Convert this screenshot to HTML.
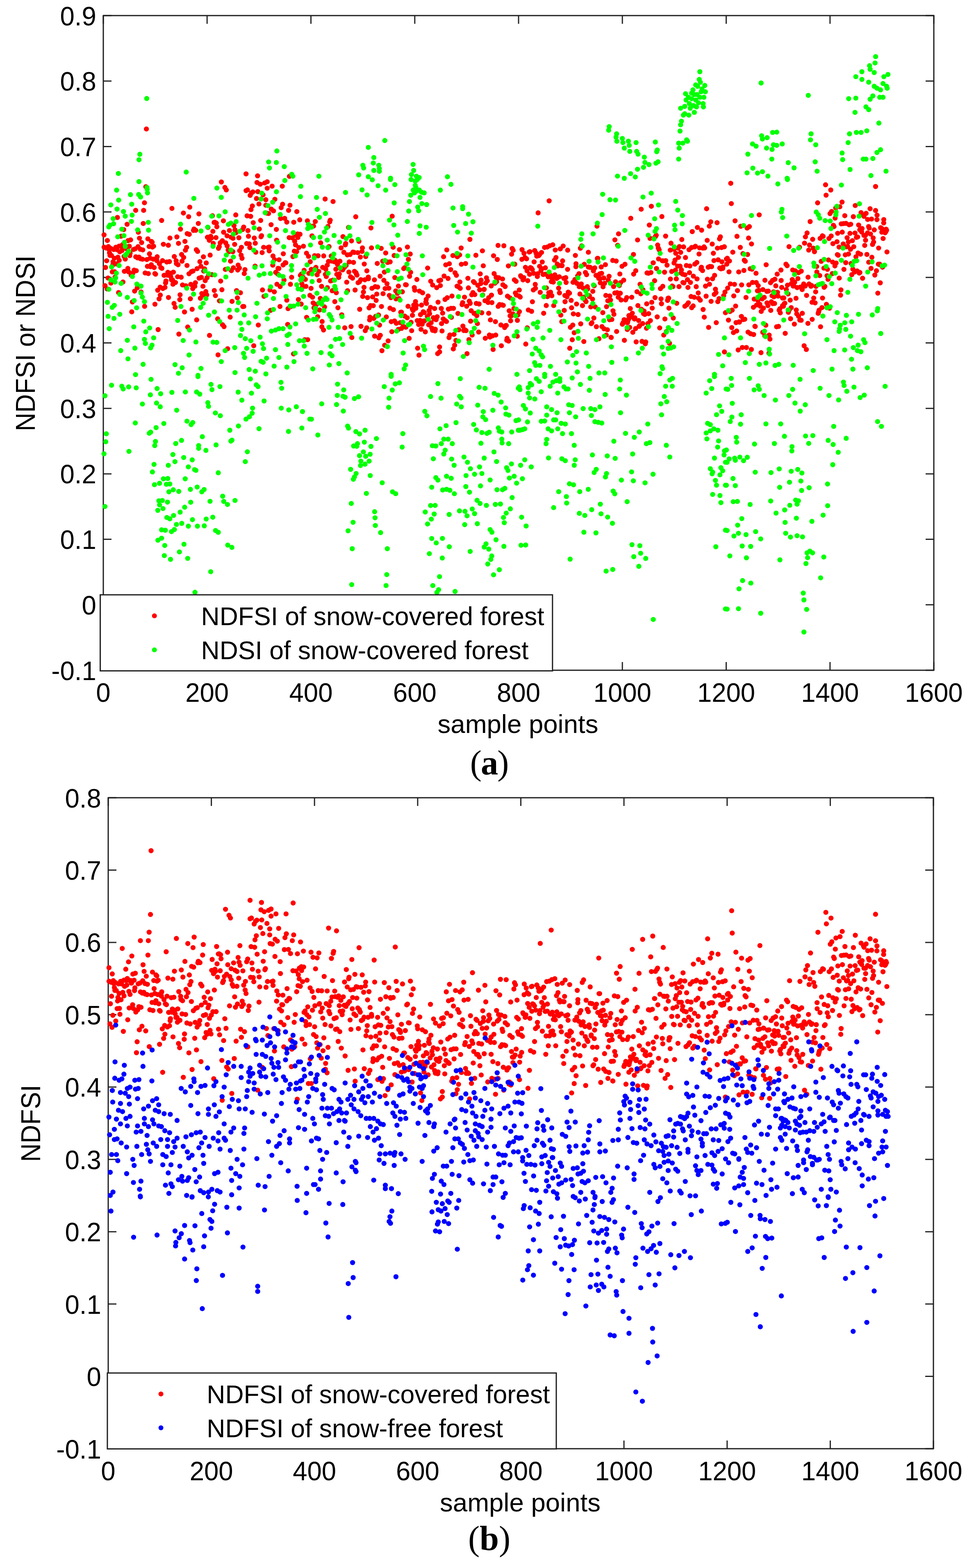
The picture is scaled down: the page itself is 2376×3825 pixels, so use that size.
<!DOCTYPE html>
<html><head><meta charset="utf-8"><title>NDFSI figure</title><style>html,body{margin:0;padding:0;background:#fff}svg{display:block}</style></head><body>
<svg xmlns="http://www.w3.org/2000/svg" width="2376" height="3825" viewBox="0 0 2376 3825">
<rect width="2376" height="3825" fill="#fff"/>
<path d="M252.0 38.0h20M2278.0 38.0h-20M252.0 197.7h20M2278.0 197.7h-20M252.0 357.4h20M2278.0 357.4h-20M252.0 517.1h20M2278.0 517.1h-20M252.0 676.8h20M2278.0 676.8h-20M252.0 836.5h20M2278.0 836.5h-20M252.0 996.2h20M2278.0 996.2h-20M252.0 1155.9h20M2278.0 1155.9h-20M252.0 1315.6h20M2278.0 1315.6h-20M252.0 1475.3h20M2278.0 1475.3h-20M252.0 1635.0h20M2278.0 1635.0h-20M252.0 38.0v20M252.0 1635.0v-20M505.2 38.0v20M505.2 1635.0v-20M758.5 38.0v20M758.5 1635.0v-20M1011.8 38.0v20M1011.8 1635.0v-20M1265.0 38.0v20M1265.0 1635.0v-20M1518.2 38.0v20M1518.2 1635.0v-20M1771.5 38.0v20M1771.5 1635.0v-20M2024.8 38.0v20M2024.8 1635.0v-20M2278.0 38.0v20M2278.0 1635.0v-20" fill="none" stroke="#262626" stroke-width="3"/>
<rect x="252" y="38" width="2026" height="1597" fill="none" stroke="#1e1e1e" stroke-width="3"/>
<path d="M264.0 1946.0h20M2277.0 1946.0h-20M264.0 2122.4h20M2277.0 2122.4h-20M264.0 2298.9h20M2277.0 2298.9h-20M264.0 2475.3h20M2277.0 2475.3h-20M264.0 2651.8h20M2277.0 2651.8h-20M264.0 2828.2h20M2277.0 2828.2h-20M264.0 3004.7h20M2277.0 3004.7h-20M264.0 3181.1h20M2277.0 3181.1h-20M264.0 3357.6h20M2277.0 3357.6h-20M264.0 3534.0h20M2277.0 3534.0h-20M264.0 1946.0v20M264.0 3534.0v-20M515.6 1946.0v20M515.6 3534.0v-20M767.2 1946.0v20M767.2 3534.0v-20M1018.9 1946.0v20M1018.9 3534.0v-20M1270.5 1946.0v20M1270.5 3534.0v-20M1522.1 1946.0v20M1522.1 3534.0v-20M1773.8 1946.0v20M1773.8 3534.0v-20M2025.4 1946.0v20M2025.4 3534.0v-20M2277.0 1946.0v20M2277.0 3534.0v-20" fill="none" stroke="#262626" stroke-width="3"/>
<rect x="264" y="1946" width="2013" height="1588" fill="none" stroke="#1e1e1e" stroke-width="3"/>
<g fill="none" stroke-width="12.4" stroke-linecap="round">
<path d="M357.1 314.6h0M355.8 455.4h0M352.4 494.6h0M331.0 513.2h0M350.4 513.2h0M419.4 508.4h0M462.9 505.4h0M539.9 444.0h0M548.6 457.3h0M552.0 463.3h0M600.2 424.2h0M628.3 429.0h0M627.0 445.2h0M635.0 449.4h0M645.7 446.4h0M651.8 443.4h0M651.8 459.1h0M663.8 454.2h0M688.6 454.2h0M706.0 430.2h0M600.2 465.1h0M603.6 463.3h0M613.6 470.5h0M610.3 476.5h0M616.9 468.1h0M629.0 467.5h0M641.7 475.3h0M625.7 484.3h0M648.4 487.3h0M670.5 486.1h0M631.7 497.6h0M648.4 500.6h0M615.6 502.4h0M689.3 498.2h0M685.9 506.6h0M707.4 500.6h0M793.1 485.5h0M812.5 491.6h0M612.3 511.4h0M661.8 510.2h0M667.2 514.4h0M704.0 513.2h0M724.1 516.2h0M1339.6 490.0h0M1782.6 447.2h0M1784.0 496.6h0M2013.9 450.8h0M2026.6 463.5h0M2015.2 476.1h0M1994.5 494.8h0M2054.1 493.0h0M2038.7 507.4h0M2048.7 504.4h0M2086.3 501.4h0M2135.9 455.0h0M2122.5 509.2h0M1564.1 510.4h0M1588.9 503.2h0M1723.7 509.2h0M2028.6 515.9h0M2135.9 513.5h0M555.3 850.6h0M531.9 865.7h0M619.0 843.4h0M716.1 863.3h0M938.4 842.2h0M931.7 855.5h0M1018.7 849.4h0M1022.1 866.3h0M1072.3 846.4h0M1072.3 858.5h0M1067.6 862.7h0M1109.1 842.2h0M1105.8 851.2h0M1223.0 843.4h0M1202.9 852.5h0M1139.3 862.7h0M1282.6 839.3h0M1389.8 849.5h0M1633.2 837.5h0M1574.2 838.7h0M1800.7 853.7h0M1810.8 847.7h0M1820.8 847.7h0M1832.9 852.5h0M1856.4 860.3h0M1875.8 861.6h0M1767.2 858.5h0M1961.6 843.5h0M1967.0 852.5h0M253.8 573.0h0M254.0 603.0h0M256.1 697.0h0M257.4 652.5h0M258.9 605.0h0M260.2 636.1h0M261.4 704.8h0M261.9 586.7h0M263.4 678.1h0M264.5 601.5h0M265.9 608.3h0M267.1 616.9h0M268.3 623.1h0M270.1 606.0h0M270.5 690.6h0M271.8 623.1h0M274.0 663.3h0M275.1 646.5h0M275.8 638.6h0M277.5 608.7h0M278.8 629.9h0M279.5 662.9h0M280.7 675.8h0M282.5 603.1h0M283.5 643.8h0M284.7 608.8h0M286.4 530.5h0M287.7 627.5h0M289.2 713.6h0M290.5 600.4h0M290.8 635.1h0M292.1 614.2h0M293.8 600.8h0M295.1 576.3h0M296.2 601.5h0M297.5 611.4h0M298.9 596.9h0M299.9 687.9h0M301.8 560.1h0M302.7 625.4h0M303.4 661.9h0M305.6 632.1h0M305.9 602.3h0M307.2 601.3h0M308.9 607.2h0M310.0 547.1h0M311.9 654.8h0M312.5 587.0h0M313.7 663.0h0M315.5 600.7h0M316.5 623.5h0M317.4 617.4h0M318.5 585.2h0M319.8 671.0h0M321.4 760.7h0M323.0 736.5h0M324.3 666.1h0M325.6 608.6h0M327.2 659.0h0M328.4 710.1h0M329.6 607.1h0M331.2 626.5h0M332.5 660.4h0M334.8 702.2h0M335.6 629.0h0M336.7 601.8h0M337.5 566.6h0M339.2 627.3h0M340.2 581.1h0M342.3 608.0h0M342.7 631.2h0M344.1 712.5h0M345.5 591.8h0M347.5 632.4h0M348.3 609.6h0M349.5 545.2h0M352.7 747.3h0M354.1 665.9h0M358.1 633.2h0M359.6 649.7h0M360.7 582.7h0M361.8 667.4h0M363.8 601.3h0M364.7 619.2h0M366.3 629.9h0M367.1 650.6h0M369.1 645.8h0M369.3 589.0h0M371.1 590.8h0M371.8 602.7h0M373.6 632.2h0M374.7 600.6h0M376.1 652.7h0M377.9 667.4h0M378.0 742.1h0M379.5 668.8h0M381.8 629.9h0M382.7 635.9h0M383.4 626.3h0M384.7 708.0h0M385.7 804.0h0M388.1 729.1h0M388.9 643.5h0M390.6 700.5h0M391.0 719.8h0M392.3 652.8h0M394.3 537.8h0M394.9 654.6h0M396.5 635.8h0M397.3 703.9h0M398.6 595.9h0M400.2 671.6h0M400.9 671.7h0M402.4 701.1h0M403.9 690.2h0M404.8 685.5h0M406.9 639.2h0M408.3 671.3h0M409.4 664.3h0M410.7 598.3h0M411.0 725.7h0M413.3 638.2h0M414.6 580.7h0M415.9 666.6h0M416.4 674.5h0M418.3 682.9h0M420.8 682.7h0M421.9 693.3h0M422.9 663.9h0M424.5 740.3h0M425.2 625.8h0M427.3 749.7h0M428.1 689.1h0M429.7 636.1h0M430.4 643.0h0M431.5 578.0h0M433.3 675.1h0M434.4 645.9h0M435.4 593.7h0M436.4 815.0h0M438.6 731.0h0M439.3 719.2h0M440.3 559.1h0M442.0 676.3h0M443.0 620.8h0M444.0 637.2h0M445.2 695.1h0M447.4 519.7h0M448.0 628.0h0M450.1 761.0h0M451.2 588.9h0M452.3 610.4h0M453.3 697.2h0M455.2 603.4h0M456.2 647.6h0M456.7 570.0h0M457.9 797.8h0M460.2 528.6h0M461.1 667.9h0M461.7 571.7h0M464.4 728.8h0M465.4 693.7h0M467.2 662.5h0M468.7 754.5h0M470.2 704.1h0M470.8 661.2h0M472.0 562.1h0M473.3 558.7h0M475.2 698.4h0M476.7 689.6h0M477.4 561.8h0M479.0 609.2h0M479.8 780.3h0M480.7 655.3h0M482.0 613.3h0M483.8 545.1h0M485.3 521.8h0M485.8 678.5h0M487.6 638.3h0M488.8 727.5h0M490.1 649.6h0M491.2 676.7h0M492.3 716.1h0M494.2 720.1h0M495.1 698.4h0M496.2 626.5h0M497.0 661.4h0M499.0 655.8h0M500.6 684.6h0M502.1 711.3h0M503.1 641.4h0M504.3 719.3h0M505.0 677.6h0M506.0 578.8h0M507.2 554.8h0M509.0 670.2h0M510.6 586.2h0M511.1 818.2h0M512.6 622.3h0M514.1 576.5h0M515.2 581.2h0M516.9 670.0h0M518.1 526.3h0M519.3 564.4h0M520.2 593.7h0M522.3 542.6h0M522.8 708.7h0M524.1 542.2h0M525.5 721.1h0M526.9 579.6h0M527.7 544.3h0M529.0 553.2h0M531.0 777.8h0M533.0 605.8h0M534.9 601.7h0M535.3 733.9h0M537.2 592.3h0M538.3 685.7h0M541.3 706.8h0M542.5 587.2h0M542.8 792.2h0M545.0 538.7h0M545.5 566.5h0M546.5 796.8h0M549.8 657.2h0M550.5 592.5h0M553.9 575.2h0M554.1 599.9h0M556.6 609.9h0M558.7 613.9h0M559.7 562.4h0M561.5 773.6h0M562.4 637.2h0M563.6 578.6h0M564.4 660.2h0M566.0 735.2h0M567.9 614.0h0M568.3 581.3h0M569.3 653.2h0M570.8 550.4h0M572.4 596.1h0M573.2 560.7h0M575.2 524.3h0M575.8 567.7h0M577.0 708.9h0M579.1 726.6h0M579.9 658.7h0M580.9 646.7h0M582.7 580.0h0M583.9 653.9h0M584.6 611.5h0M586.5 714.2h0M588.2 622.4h0M588.9 603.4h0M590.4 630.0h0M591.9 559.8h0M592.3 747.8h0M594.5 553.9h0M594.7 747.6h0M595.9 667.4h0M597.6 657.7h0M601.7 594.1h0M602.8 526.5h0M604.8 562.5h0M606.1 576.3h0M608.0 594.9h0M609.4 604.0h0M611.5 527.8h0M617.7 543.1h0M620.3 580.7h0M622.2 649.1h0M622.7 593.3h0M624.0 615.3h0M630.1 792.9h0M632.6 558.7h0M635.9 537.8h0M636.7 577.6h0M638.0 574.9h0M639.5 616.2h0M640.3 707.3h0M643.1 603.4h0M644.0 722.9h0M649.6 519.7h0M653.9 603.6h0M655.1 520.9h0M656.5 602.6h0M656.7 612.1h0M658.6 707.4h0M660.1 757.0h0M661.3 548.1h0M665.4 646.8h0M665.9 624.4h0M669.2 711.9h0M669.4 633.1h0M672.6 664.3h0M674.2 559.7h0M674.8 585.9h0M675.6 693.4h0M677.5 668.4h0M678.2 654.6h0M680.2 655.0h0M680.7 633.6h0M683.0 747.7h0M683.4 699.0h0M684.5 533.0h0M690.6 646.3h0M691.1 619.1h0M692.8 683.2h0M694.4 532.7h0M695.4 641.7h0M696.0 640.7h0M697.3 641.3h0M699.6 541.8h0M699.6 732.4h0M701.7 791.4h0M702.7 752.9h0M705.5 579.7h0M708.5 693.5h0M709.9 747.5h0M711.4 676.4h0M713.3 580.3h0M714.6 626.0h0M716.6 542.2h0M718.0 612.6h0M718.8 588.3h0M720.9 597.3h0M721.3 573.9h0M723.6 614.0h0M726.1 570.7h0M726.7 579.3h0M727.9 730.6h0M729.0 603.8h0M731.2 536.3h0M731.8 571.5h0M732.8 671.7h0M734.7 741.8h0M735.3 668.6h0M736.5 691.8h0M737.8 700.7h0M739.4 676.6h0M740.2 600.6h0M741.9 659.4h0M743.5 828.7h0M744.9 681.6h0M746.3 698.6h0M747.7 617.6h0M748.0 774.1h0M749.9 538.7h0M750.5 828.6h0M752.6 625.4h0M753.4 666.9h0M754.7 549.9h0M756.1 720.5h0M756.8 638.5h0M758.8 703.4h0M759.4 657.1h0M761.0 575.4h0M762.4 725.1h0M764.0 738.9h0M764.9 551.3h0M765.9 750.7h0M767.5 623.6h0M769.1 540.4h0M769.9 653.4h0M770.7 652.3h0M772.1 742.7h0M773.7 670.4h0M775.0 772.7h0M775.9 624.0h0M777.6 662.2h0M778.7 684.4h0M779.4 756.2h0M781.4 727.9h0M782.2 592.4h0M784.4 698.5h0M785.2 797.3h0M785.8 784.3h0M787.2 652.3h0M789.2 805.0h0M789.6 624.3h0M791.7 748.8h0M793.7 669.3h0M794.7 656.9h0M796.0 674.5h0M798.3 646.9h0M798.7 701.6h0M800.0 552.5h0M801.3 637.8h0M802.6 601.5h0M804.3 541.2h0M805.5 537.1h0M806.5 685.3h0M808.0 624.5h0M809.2 636.8h0M810.3 709.3h0M811.9 683.5h0M813.7 708.3h0M815.1 638.3h0M816.7 735.8h0M817.7 635.3h0M819.3 656.8h0M820.4 714.1h0M821.7 669.2h0M823.2 645.1h0M824.3 750.7h0M825.9 673.9h0M826.3 676.8h0M827.7 668.3h0M829.2 637.2h0M831.3 655.9h0M832.1 604.6h0M833.6 767.9h0M834.9 657.9h0M835.8 658.4h0M836.6 577.1h0M838.8 615.5h0M840.0 652.6h0M841.0 799.6h0M842.4 597.3h0M843.3 594.1h0M844.3 647.7h0M845.8 688.4h0M847.3 621.8h0M847.8 709.2h0M850.2 554.8h0M851.1 663.6h0M852.0 638.9h0M854.1 620.9h0M855.2 675.2h0M856.4 796.6h0M857.5 587.7h0M858.3 823.4h0M860.0 678.6h0M861.0 614.9h0M862.3 640.2h0M863.9 615.8h0M864.8 661.9h0M866.2 707.5h0M867.8 528.8h0M868.5 665.3h0M869.3 668.5h0M870.8 671.1h0M872.7 616.4h0M873.5 689.6h0M875.6 588.8h0M876.8 687.7h0M877.4 754.5h0M879.1 627.1h0M880.1 682.2h0M880.7 796.0h0M883.2 613.3h0M884.1 604.7h0M884.8 723.2h0M886.6 712.4h0M888.0 700.9h0M888.6 644.1h0M889.9 682.5h0M891.0 806.6h0M892.2 625.8h0M894.5 799.6h0M894.9 660.7h0M896.6 726.0h0M898.4 676.0h0M898.7 680.1h0M900.4 751.0h0M901.6 780.3h0M902.5 773.8h0M904.1 745.5h0M904.9 556.1h0M906.2 604.6h0M907.3 703.4h0M909.1 724.3h0M910.6 745.7h0M911.8 776.7h0M913.4 682.6h0M913.9 820.0h0M915.4 699.2h0M916.4 771.7h0M917.6 732.9h0M919.1 717.4h0M920.3 642.7h0M921.2 700.3h0M923.3 768.5h0M924.2 824.0h0M925.8 793.0h0M927.3 673.7h0M927.7 817.9h0M929.9 605.9h0M930.6 747.7h0M933.6 637.1h0M934.4 716.4h0M936.4 683.8h0M937.6 663.8h0M939.6 703.9h0M940.9 617.2h0M942.4 773.2h0M944.0 692.1h0M944.8 639.0h0M945.6 640.4h0M946.8 831.6h0M948.5 703.1h0M949.8 720.6h0M951.4 751.8h0M951.7 638.8h0M953.5 726.1h0M954.5 784.7h0M955.8 809.1h0M956.7 527.4h0M959.0 603.2h0M959.6 755.4h0M961.5 623.3h0M962.4 783.0h0M963.1 677.1h0M965.3 709.6h0M966.0 729.1h0M966.8 788.6h0M968.1 711.6h0M969.5 715.8h0M971.8 803.5h0M971.9 697.9h0M973.2 728.4h0M974.5 608.9h0M976.1 787.1h0M977.6 761.6h0M979.3 761.4h0M979.6 801.1h0M981.5 711.8h0M983.1 797.6h0M983.7 796.2h0M984.9 655.2h0M986.7 653.3h0M987.4 771.2h0M989.3 694.5h0M990.0 798.2h0M991.0 694.9h0M993.3 775.2h0M993.9 602.6h0M995.4 747.2h0M996.2 632.7h0M998.1 825.4h0M999.1 674.0h0M1000.7 619.7h0M1001.7 664.3h0M1002.7 786.3h0M1004.2 806.6h0M1005.8 754.0h0M1006.1 769.2h0M1007.8 757.3h0M1009.3 744.3h0M1010.7 701.5h0M1011.8 707.8h0M1013.6 735.6h0M1014.4 752.1h0M1015.7 744.8h0M1016.9 681.8h0M1017.9 782.1h0M1021.2 791.5h0M1023.2 710.1h0M1024.9 781.6h0M1025.8 767.5h0M1027.1 803.4h0M1028.2 744.3h0M1029.9 790.9h0M1030.9 714.3h0M1032.5 760.4h0M1033.6 783.1h0M1034.9 762.5h0M1035.4 782.8h0M1037.5 809.5h0M1038.7 737.2h0M1039.7 730.5h0M1040.3 740.3h0M1042.5 772.1h0M1043.2 653.9h0M1044.3 722.2h0M1045.7 792.3h0M1046.8 757.4h0M1047.9 765.2h0M1050.2 749.7h0M1050.7 686.1h0M1051.7 787.4h0M1053.3 800.1h0M1055.3 805.9h0M1055.5 695.3h0M1057.1 774.9h0M1059.0 778.0h0M1060.2 752.6h0M1061.0 807.2h0M1061.8 803.2h0M1063.9 779.9h0M1065.3 701.7h0M1066.4 772.6h0M1068.6 737.1h0M1070.6 684.9h0M1074.2 696.6h0M1074.9 683.5h0M1076.5 752.5h0M1077.2 789.4h0M1078.3 807.4h0M1079.8 763.8h0M1081.3 777.9h0M1082.1 626.3h0M1083.3 673.5h0M1085.6 730.5h0M1086.5 782.2h0M1087.4 646.1h0M1089.0 784.4h0M1089.9 609.6h0M1091.0 726.3h0M1093.0 679.3h0M1093.8 754.0h0M1095.4 823.5h0M1096.1 643.4h0M1097.5 817.2h0M1099.5 657.7h0M1100.2 752.2h0M1101.1 774.2h0M1102.6 722.2h0M1104.8 623.4h0M1106.2 752.2h0M1107.6 815.7h0M1110.0 665.5h0M1112.1 830.4h0M1113.4 671.6h0M1114.9 698.1h0M1115.6 626.4h0M1117.1 764.7h0M1118.5 699.7h0M1119.2 804.5h0M1121.2 621.9h0M1121.8 687.9h0M1122.7 703.3h0M1124.9 605.0h0M1125.5 644.6h0M1127.2 743.0h0M1128.6 738.2h0M1129.2 795.4h0M1131.4 806.4h0M1132.5 803.7h0M1133.1 724.9h0M1135.2 805.3h0M1135.7 642.9h0M1136.9 806.5h0M1138.4 747.0h0M1141.4 678.9h0M1142.6 702.3h0M1143.9 828.4h0M1144.8 734.6h0M1146.3 584.0h0M1147.0 740.0h0M1148.1 783.5h0M1149.4 758.0h0M1150.7 719.1h0M1151.8 817.3h0M1153.6 713.7h0M1155.0 686.9h0M1156.5 764.5h0M1157.3 689.3h0M1158.2 718.6h0M1159.5 764.5h0M1160.9 622.7h0M1162.0 740.2h0M1163.1 770.0h0M1164.6 789.4h0M1165.7 696.2h0M1167.7 810.0h0M1168.7 741.5h0M1170.2 707.0h0M1171.5 668.1h0M1172.8 691.7h0M1173.5 683.3h0M1175.2 763.0h0M1176.8 611.9h0M1177.4 719.6h0M1178.9 648.4h0M1180.7 706.3h0M1181.2 705.8h0M1183.1 733.6h0M1183.8 825.2h0M1184.9 690.3h0M1186.7 677.6h0M1188.4 733.2h0M1188.7 685.2h0M1190.7 737.8h0M1192.1 764.2h0M1192.2 726.1h0M1193.8 817.3h0M1195.3 822.2h0M1196.3 780.4h0M1198.2 697.5h0M1198.9 720.0h0M1200.0 738.2h0M1201.2 819.3h0M1204.0 623.9h0M1205.4 667.5h0M1207.3 690.9h0M1208.6 784.7h0M1209.3 817.4h0M1210.2 676.3h0M1211.3 687.2h0M1213.1 633.0h0M1215.0 598.7h0M1215.3 747.3h0M1216.7 677.5h0M1218.7 742.9h0M1219.2 708.6h0M1220.6 713.6h0M1222.0 792.8h0M1224.6 743.8h0M1225.9 680.6h0M1226.7 694.6h0M1227.7 744.9h0M1229.1 599.5h0M1231.0 799.0h0M1232.2 699.0h0M1233.7 794.2h0M1235.0 794.0h0M1236.2 830.1h0M1237.0 825.3h0M1238.0 722.5h0M1240.1 648.7h0M1240.6 832.1h0M1242.1 758.1h0M1244.0 726.7h0M1244.3 770.4h0M1245.6 782.5h0M1247.3 770.4h0M1248.0 620.1h0M1249.5 606.2h0M1251.0 765.7h0M1251.8 610.7h0M1253.6 752.6h0M1254.8 682.7h0M1255.7 644.5h0M1257.3 714.7h0M1259.0 686.3h0M1259.5 719.7h0M1261.8 820.2h0M1262.1 781.5h0M1263.4 768.2h0M1265.5 721.6h0M1266.7 707.5h0M1267.0 760.1h0M1269.0 724.6h0M1270.0 672.6h0M1271.2 674.8h0M1273.1 632.6h0M1273.5 609.0h0M1275.8 682.8h0M1276.2 682.5h0M1277.5 677.1h0M1278.3 618.0h0M1280.8 628.4h0M1281.8 652.1h0M1284.5 631.3h0M1285.7 660.6h0M1286.2 799.6h0M1287.3 684.7h0M1288.9 756.2h0M1290.9 614.9h0M1292.0 669.2h0M1292.5 614.0h0M1294.0 652.8h0M1295.9 653.9h0M1296.7 759.5h0M1298.5 657.4h0M1298.8 736.1h0M1301.0 707.4h0M1301.6 666.7h0M1302.9 638.9h0M1304.4 611.2h0M1305.7 693.7h0M1306.2 703.3h0M1307.7 617.5h0M1309.4 624.9h0M1310.8 674.5h0M1311.8 667.7h0M1312.7 519.3h0M1314.1 623.6h0M1316.3 620.9h0M1316.3 649.6h0M1317.8 713.2h0M1319.7 660.1h0M1321.0 615.9h0M1321.7 655.5h0M1322.7 639.1h0M1324.9 669.6h0M1326.2 764.2h0M1327.0 723.7h0M1328.4 603.7h0M1330.1 668.9h0M1330.3 653.3h0M1332.6 745.3h0M1332.9 702.4h0M1335.0 602.6h0M1335.5 723.6h0M1337.4 675.3h0M1338.8 714.1h0M1341.1 599.4h0M1342.3 671.2h0M1343.0 712.7h0M1345.0 687.1h0M1346.2 721.3h0M1347.0 680.0h0M1348.4 597.2h0M1349.6 688.2h0M1350.7 745.4h0M1352.6 634.6h0M1353.5 670.4h0M1354.5 609.9h0M1356.3 628.1h0M1357.3 676.6h0M1358.2 679.2h0M1359.4 644.3h0M1361.0 648.6h0M1362.7 703.0h0M1364.3 675.1h0M1364.7 714.5h0M1366.8 607.2h0M1368.1 768.6h0M1368.3 647.7h0M1370.4 784.6h0M1371.1 648.0h0M1372.4 636.3h0M1373.8 600.1h0M1375.4 679.0h0M1376.5 757.2h0M1378.0 720.9h0M1378.4 736.0h0M1380.2 677.3h0M1381.0 689.0h0M1383.2 724.1h0M1384.6 657.1h0M1384.8 610.3h0M1386.1 712.6h0M1387.2 716.3h0M1389.2 715.2h0M1391.5 798.5h0M1393.3 732.8h0M1394.3 750.8h0M1396.0 828.8h0M1397.3 793.0h0M1397.9 688.7h0M1398.7 765.7h0M1400.7 811.6h0M1402.4 682.0h0M1403.6 623.1h0M1404.8 650.5h0M1405.1 643.4h0M1406.5 741.6h0M1407.5 691.3h0M1409.3 672.9h0M1410.3 767.3h0M1412.4 667.6h0M1413.0 699.4h0M1414.7 717.3h0M1415.8 605.5h0M1416.6 790.0h0M1418.0 692.6h0M1419.1 599.8h0M1420.9 745.5h0M1422.4 702.7h0M1423.3 725.0h0M1424.2 833.1h0M1425.3 644.8h0M1427.2 732.0h0M1428.1 664.7h0M1429.6 735.9h0M1430.9 670.0h0M1432.7 699.3h0M1433.6 704.9h0M1435.3 651.5h0M1435.3 615.4h0M1437.7 723.6h0M1437.9 721.5h0M1439.7 652.3h0M1441.1 748.6h0M1442.2 789.5h0M1443.9 787.3h0M1445.4 729.6h0M1446.1 710.7h0M1447.6 660.9h0M1448.7 775.8h0M1449.4 697.2h0M1450.8 653.5h0M1451.9 748.7h0M1453.9 671.8h0M1454.9 797.0h0M1456.3 551.7h0M1457.2 630.3h0M1458.4 630.2h0M1460.5 679.1h0M1461.1 826.3h0M1462.9 668.1h0M1464.2 679.7h0M1464.5 690.1h0M1466.6 651.3h0M1467.5 666.8h0M1468.4 796.7h0M1470.5 762.7h0M1471.1 699.6h0M1472.9 678.2h0M1473.4 802.0h0M1474.7 691.3h0M1476.9 645.6h0M1477.9 720.7h0M1478.9 817.4h0M1479.6 748.1h0M1481.6 804.4h0M1482.6 733.7h0M1483.8 683.3h0M1485.8 673.9h0M1487.0 780.0h0M1487.5 722.0h0M1489.3 732.0h0M1490.6 823.0h0M1491.1 823.3h0M1492.5 779.3h0M1494.7 635.3h0M1495.4 758.1h0M1496.8 699.0h0M1497.6 766.7h0M1499.8 714.8h0M1500.0 585.1h0M1501.6 687.4h0M1503.1 636.8h0M1504.2 808.6h0M1505.4 713.9h0M1506.7 598.5h0M1508.2 725.0h0M1508.9 570.4h0M1510.7 696.5h0M1512.1 668.4h0M1513.2 715.3h0M1514.0 689.4h0M1515.1 731.8h0M1517.4 649.6h0M1518.3 790.9h0M1519.9 787.1h0M1521.4 683.5h0M1522.5 780.0h0M1523.1 830.2h0M1524.6 644.7h0M1526.2 731.6h0M1527.6 785.9h0M1528.9 726.0h0M1530.3 803.8h0M1530.8 787.1h0M1531.7 783.1h0M1533.6 778.2h0M1534.2 769.8h0M1536.1 798.6h0M1537.6 752.7h0M1538.7 532.5h0M1540.3 772.7h0M1541.1 725.1h0M1542.5 764.1h0M1543.7 810.6h0M1545.3 620.6h0M1545.7 668.7h0M1547.6 778.2h0M1548.6 775.1h0M1550.5 801.5h0M1550.9 660.4h0M1551.9 834.0h0M1553.9 711.6h0M1555.3 585.4h0M1556.1 745.4h0M1557.9 781.9h0M1559.2 796.0h0M1560.2 794.4h0M1561.4 693.4h0M1563.1 716.7h0M1564.5 754.5h0M1566.1 832.8h0M1567.8 789.3h0M1568.3 706.9h0M1569.8 765.1h0M1571.2 758.8h0M1573.0 767.1h0M1575.2 834.2h0M1577.1 800.7h0M1577.6 741.2h0M1578.4 665.8h0M1580.4 789.3h0M1582.0 666.5h0M1582.3 765.2h0M1584.0 549.0h0M1585.7 581.5h0M1586.6 782.1h0M1587.9 664.9h0M1589.9 737.4h0M1591.1 751.6h0M1593.2 641.1h0M1593.6 641.1h0M1595.5 581.1h0M1596.9 684.8h0M1597.9 726.0h0M1599.1 576.8h0M1600.8 573.9h0M1601.5 655.0h0M1603.2 773.0h0M1604.3 597.8h0M1605.9 605.2h0M1606.5 631.6h0M1607.9 609.3h0M1609.3 799.9h0M1611.1 704.1h0M1612.5 729.1h0M1613.6 741.0h0M1614.6 528.3h0M1615.7 636.1h0M1616.8 698.5h0M1618.4 636.4h0M1619.2 817.4h0M1621.1 664.0h0M1622.0 778.1h0M1623.7 576.0h0M1624.0 636.0h0M1625.5 808.9h0M1627.2 646.8h0M1628.5 732.9h0M1629.7 727.5h0M1631.1 727.3h0M1631.8 751.7h0M1635.1 610.1h0M1635.5 680.6h0M1636.9 593.3h0M1638.5 662.3h0M1639.8 697.8h0M1641.5 699.0h0M1642.4 775.8h0M1643.9 608.2h0M1644.3 641.5h0M1646.7 634.5h0M1647.6 659.2h0M1648.5 617.9h0M1649.8 680.3h0M1650.8 739.9h0M1653.1 649.2h0M1654.2 605.3h0M1655.0 627.9h0M1656.4 699.2h0M1657.4 601.5h0M1659.1 649.3h0M1660.4 615.7h0M1661.5 666.0h0M1662.3 658.3h0M1663.2 584.3h0M1665.4 668.8h0M1665.9 689.1h0M1667.6 602.3h0M1668.4 690.0h0M1670.6 747.1h0M1670.9 670.4h0M1672.2 628.3h0M1674.4 647.6h0M1675.7 743.3h0M1677.1 682.1h0M1678.2 701.2h0M1679.2 738.6h0M1680.8 609.1h0M1682.0 665.2h0M1682.9 648.9h0M1684.3 689.1h0M1685.8 723.3h0M1687.1 603.8h0M1687.3 750.5h0M1688.7 565.0h0M1690.9 746.3h0M1691.4 673.6h0M1693.5 725.1h0M1694.6 602.3h0M1695.0 644.3h0M1696.4 600.6h0M1698.4 699.3h0M1699.8 640.3h0M1700.4 680.4h0M1701.3 554.9h0M1703.3 714.7h0M1704.2 727.7h0M1705.3 619.6h0M1706.5 604.6h0M1708.3 732.4h0M1709.9 656.2h0M1711.0 652.0h0M1711.5 561.5h0M1713.8 660.1h0M1714.6 605.4h0M1715.2 755.0h0M1717.4 602.3h0M1718.0 773.7h0M1719.0 604.8h0M1721.1 698.0h0M1722.5 722.5h0M1725.2 586.4h0M1725.7 681.2h0M1727.6 651.8h0M1728.6 798.6h0M1730.3 551.6h0M1730.7 693.4h0M1731.7 650.0h0M1733.9 541.1h0M1734.7 735.1h0M1735.8 650.5h0M1737.4 595.4h0M1738.2 680.0h0M1740.2 617.8h0M1741.6 635.6h0M1742.5 718.2h0M1743.2 671.7h0M1745.3 705.5h0M1746.7 714.1h0M1747.3 787.1h0M1749.2 543.2h0M1750.2 605.4h0M1751.0 735.9h0M1751.9 633.8h0M1754.1 728.5h0M1755.2 582.7h0M1755.8 653.8h0M1757.3 577.6h0M1758.6 655.8h0M1760.2 603.9h0M1761.1 638.6h0M1763.0 654.9h0M1763.5 651.5h0M1765.4 721.1h0M1766.9 602.0h0M1768.5 712.5h0M1769.7 762.8h0M1772.1 631.8h0M1772.9 644.3h0M1774.1 629.9h0M1775.1 702.8h0M1777.0 780.9h0M1778.4 663.1h0M1779.5 636.6h0M1780.8 759.8h0M1781.5 692.6h0M1785.1 799.2h0M1786.1 756.5h0M1787.6 615.2h0M1789.2 811.3h0M1790.0 721.9h0M1791.7 693.6h0M1793.1 538.7h0M1794.5 746.6h0M1795.6 787.0h0M1797.1 807.4h0M1797.8 576.5h0M1799.0 708.9h0M1802.1 663.4h0M1803.0 785.1h0M1803.8 785.9h0M1805.9 603.5h0M1807.0 552.0h0M1808.6 771.9h0M1809.1 695.0h0M1812.4 618.6h0M1812.9 779.6h0M1814.7 659.8h0M1815.6 634.7h0M1816.8 778.7h0M1818.0 637.4h0M1819.8 725.6h0M1822.6 556.3h0M1823.7 620.8h0M1824.8 810.1h0M1826.1 580.7h0M1826.8 694.9h0M1828.0 552.8h0M1830.0 655.6h0M1831.2 814.3h0M1833.2 595.1h0M1834.4 656.7h0M1835.8 689.0h0M1837.9 749.7h0M1838.4 816.0h0M1839.8 729.6h0M1841.6 796.0h0M1842.3 796.5h0M1844.3 666.6h0M1844.9 689.3h0M1845.7 744.1h0M1847.7 709.4h0M1848.7 732.8h0M1849.6 696.9h0M1851.3 708.5h0M1852.0 524.1h0M1853.5 742.2h0M1854.8 747.1h0M1857.0 759.7h0M1859.3 729.1h0M1860.7 810.6h0M1861.0 706.4h0M1862.2 751.8h0M1864.3 725.5h0M1865.7 819.3h0M1866.0 683.7h0M1868.1 793.3h0M1869.0 645.9h0M1870.7 710.8h0M1871.0 738.9h0M1873.3 745.6h0M1874.3 710.2h0M1876.3 817.5h0M1878.2 827.2h0M1879.7 689.7h0M1880.2 757.2h0M1881.9 736.2h0M1883.3 721.4h0M1884.5 684.2h0M1885.0 740.5h0M1887.1 711.9h0M1887.9 724.1h0M1889.5 740.3h0M1890.3 681.2h0M1891.4 713.7h0M1892.5 697.3h0M1894.5 797.2h0M1895.9 668.7h0M1896.7 713.2h0M1898.2 722.4h0M1899.1 796.3h0M1900.7 756.7h0M1902.4 753.3h0M1903.4 763.2h0M1905.1 658.8h0M1905.6 684.2h0M1906.9 701.2h0M1908.9 745.6h0M1909.0 727.0h0M1911.0 747.2h0M1912.0 726.8h0M1913.4 740.4h0M1914.6 739.6h0M1915.5 813.2h0M1917.3 644.4h0M1918.1 706.2h0M1920.1 648.2h0M1921.0 695.6h0M1922.5 717.1h0M1923.2 761.9h0M1924.8 601.7h0M1925.4 755.9h0M1927.6 732.2h0M1928.5 777.5h0M1930.1 750.5h0M1930.5 691.8h0M1932.8 682.0h0M1933.8 658.6h0M1934.8 697.8h0M1936.6 697.6h0M1937.8 790.6h0M1938.5 688.5h0M1940.0 660.7h0M1941.8 727.6h0M1942.4 756.1h0M1943.6 765.6h0M1944.7 701.5h0M1946.4 679.6h0M1948.0 771.6h0M1948.2 665.1h0M1950.3 603.2h0M1951.1 780.8h0M1952.3 700.4h0M1954.4 781.3h0M1954.6 661.5h0M1956.9 706.3h0M1957.2 764.3h0M1958.7 697.3h0M1960.6 692.7h0M1962.6 593.2h0M1964.2 697.9h0M1964.8 577.8h0M1967.6 720.7h0M1968.8 568.3h0M1970.9 788.9h0M1971.2 676.2h0M1972.8 610.1h0M1973.6 692.8h0M1974.7 597.8h0M1976.3 540.5h0M1978.3 698.3h0M1979.7 696.5h0M1980.9 737.4h0M1981.3 779.1h0M1982.4 583.8h0M1984.0 605.5h0M1985.0 727.1h0M1986.8 614.0h0M1988.4 738.9h0M1989.7 711.9h0M1990.5 698.7h0M1992.3 650.1h0M1992.6 663.5h0M1995.9 764.4h0M1997.0 760.7h0M1998.1 756.7h0M1999.6 672.2h0M2000.6 581.6h0M2001.7 797.1h0M2003.3 637.5h0M2005.0 750.4h0M2006.1 575.3h0M2006.5 727.1h0M2007.9 576.5h0M2009.8 654.1h0M2010.4 700.8h0M2012.2 698.7h0M2016.0 742.5h0M2017.4 672.6h0M2018.5 657.1h0M2019.9 681.3h0M2021.0 634.2h0M2022.2 581.9h0M2023.5 751.8h0M2024.8 521.1h0M2027.6 575.6h0M2030.3 667.5h0M2031.2 639.4h0M2031.8 594.4h0M2033.0 549.6h0M2034.6 552.7h0M2036.7 648.7h0M2037.2 532.1h0M2039.7 641.6h0M2041.8 589.6h0M2042.7 621.1h0M2043.4 569.1h0M2044.7 622.5h0M2046.8 602.7h0M2047.2 678.4h0M2050.5 720.1h0M2051.4 707.2h0M2052.2 546.1h0M2054.6 566.3h0M2057.0 595.1h0M2057.8 545.4h0M2058.7 657.1h0M2060.8 526.2h0M2062.0 621.7h0M2063.2 640.8h0M2063.7 544.9h0M2064.7 602.1h0M2066.5 580.0h0M2067.6 601.0h0M2069.4 590.3h0M2069.9 619.7h0M2071.5 548.3h0M2073.4 569.3h0M2074.7 608.2h0M2075.3 547.1h0M2076.2 642.6h0M2077.9 670.0h0M2079.3 587.1h0M2080.5 656.5h0M2081.7 528.5h0M2082.7 601.9h0M2084.5 663.6h0M2085.7 568.4h0M2088.0 626.4h0M2089.1 579.1h0M2090.9 660.9h0M2092.1 578.2h0M2093.2 617.2h0M2094.6 549.0h0M2096.0 666.2h0M2097.3 560.7h0M2097.6 664.8h0M2099.2 620.1h0M2100.5 518.7h0M2101.8 565.8h0M2102.9 557.5h0M2104.2 678.8h0M2106.4 525.5h0M2107.5 574.2h0M2107.7 527.8h0M2109.4 598.7h0M2111.2 574.1h0M2111.5 586.0h0M2112.8 520.5h0M2114.7 620.7h0M2116.3 568.2h0M2116.6 535.4h0M2118.9 552.7h0M2119.2 639.6h0M2120.4 556.3h0M2123.5 570.9h0M2124.9 654.7h0M2126.0 534.4h0M2126.9 627.7h0M2128.5 596.4h0M2130.0 580.4h0M2131.1 590.5h0M2132.7 560.8h0M2134.1 671.0h0M2138.0 660.5h0M2139.2 535.8h0M2139.5 524.9h0M2141.4 715.1h0M2142.7 644.4h0M2143.4 605.1h0M2145.5 645.6h0M2145.8 644.5h0M2147.3 690.0h0M2148.3 555.5h0M2150.5 557.0h0M2151.2 566.3h0M2152.8 651.7h0M2154.3 581.9h0M2155.7 543.8h0M2155.9 535.6h0M2157.8 560.7h0M2159.1 567.8h0M2160.8 565.5h0M2161.7 559.2h0M2162.7 561.8h0M2163.7 614.6h0" stroke="#ff0000"/>
<path d="M482.9 918.7h0M368.5 925.4h0M610.8 924.4h0M272.1 939.8h0M297.2 942.1h0M300.5 948.8h0M313.9 943.8h0M332.3 946.1h0M514.7 937.7h0M536.5 943.1h0M625.2 938.8h0M629.5 943.1h0M685.4 932.7h0M687.1 947.1h0M383.2 947.8h0M391.9 960.5h0M366.8 963.2h0M419.3 957.2h0M452.1 956.2h0M479.6 956.2h0M487.3 961.5h0M517.1 950.5h0M581.0 956.5h0M613.4 959.2h0M256.0 965.5h0M590.0 976.2h0M644.2 978.2h0M347.4 985.6h0M381.9 983.3h0M390.9 992.3h0M507.0 982.3h0M508.7 991.3h0M431.0 1000.7h0M616.1 995.6h0M686.1 995.6h0M704.5 1000.0h0M722.9 992.3h0M737.9 1004.0h0M755.7 1022.4h0M525.4 1007.4h0M537.5 1014.1h0M615.1 1008.0h0M608.4 1016.7h0M600.1 1022.4h0M330.0 1031.8h0M399.6 1033.1h0M456.1 1027.4h0M470.2 1030.8h0M466.2 1035.8h0M380.8 1043.2h0M581.7 1039.2h0M560.6 1049.5h0M631.9 1045.8h0M703.8 1052.5h0M736.3 1044.2h0M367.5 1054.2h0M364.1 1056.9h0M259.4 1058.2h0M258.0 1077.6h0M379.2 1077.0h0M377.5 1087.0h0M428.7 1082.0h0M442.8 1074.3h0M493.6 1065.3h0M484.6 1087.0h0M484.6 1093.7h0M502.3 1098.7h0M527.1 1085.3h0M565.9 1073.6h0M563.2 1076.0h0M603.4 1102.1h0M314.6 1101.1h0M253.7 1107.1h0M421.7 1108.8h0M448.1 1116.1h0M468.9 1121.8h0M426.7 1126.2h0M410.6 1135.2h0M375.8 1132.9h0M459.5 1138.9h0M474.6 1145.6h0M477.9 1147.3h0M598.4 1126.2h0M371.8 1151.3h0M532.5 1153.3h0M398.6 1168.0h0M409.3 1167.3h0M451.8 1168.0h0M376.8 1182.4h0M389.2 1179.0h0M405.9 1181.4h0M414.3 1180.7h0M412.0 1199.8h0M422.7 1194.8h0M436.1 1198.8h0M464.5 1193.8h0M480.9 1188.1h0M492.3 1199.8h0M498.0 1194.1h0M543.2 1210.5h0M545.8 1223.2h0M554.9 1230.6h0M573.3 1220.9h0M512.4 1222.9h0M465.2 1225.2h0M256.0 1235.6h0M387.5 1221.6h0M395.9 1220.9h0M408.6 1224.9h0M389.2 1231.6h0M397.6 1240.6h0M384.9 1245.0h0M450.5 1237.3h0M439.4 1249.3h0M407.0 1262.4h0M414.3 1265.7h0M423.4 1257.4h0M469.5 1267.7h0M503.0 1266.1h0M519.1 1261.7h0M430.4 1279.4h0M443.4 1276.8h0M459.5 1283.5h0M481.6 1283.5h0M498.3 1282.8h0M394.2 1292.5h0M403.3 1293.5h0M418.3 1296.9h0M425.4 1291.8h0M525.8 1294.2h0M532.5 1298.5h0M385.2 1317.9h0M394.2 1312.9h0M401.9 1330.7h0M448.8 1327.6h0M555.5 1329.7h0M565.6 1335.3h0M437.7 1346.4h0M400.9 1355.4h0M416.0 1364.5h0M457.8 1362.1h0M514.0 1394.6h0M475.6 1444.8h0M954.2 918.0h0M1122.9 923.7h0M823.4 937.1h0M838.5 951.2h0M822.7 964.6h0M836.8 966.6h0M841.8 969.0h0M864.6 972.3h0M874.7 968.0h0M937.4 943.2h0M964.2 936.5h0M974.3 933.8h0M956.9 951.5h0M949.1 971.3h0M948.1 993.5h0M784.8 985.1h0M821.0 986.8h0M837.5 1002.8h0M1068.2 935.8h0M1050.4 967.3h0M1075.9 971.3h0M1121.2 966.6h0M1124.5 970.7h0M1114.1 985.7h0M1125.2 992.5h0M1168.8 944.8h0M1183.2 947.2h0M1205.7 959.6h0M1215.1 963.9h0M1222.5 980.7h0M1165.4 988.4h0M1178.9 1004.2h0M1202.3 1000.8h0M1233.5 995.1h0M1234.2 1010.2h0M1241.6 1012.6h0M1258.7 1026.0h0M1264.4 947.2h0M759.7 1022.6h0M1036.3 1003.5h0M1041.4 1014.3h0M1177.9 1016.9h0M1184.6 1023.6h0M1112.5 1031.0h0M1088.3 1038.4h0M1073.2 1046.1h0M1155.4 1035.4h0M1162.1 1048.8h0M1175.5 1055.2h0M1187.9 1057.2h0M1193.3 1054.5h0M1215.7 1043.8h0M1218.1 1051.8h0M1224.1 1053.8h0M1248.3 1053.8h0M1264.4 1049.5h0M847.9 1039.4h0M850.2 1044.4h0M868.0 1052.8h0M877.0 1058.5h0M890.5 1049.5h0M775.4 1061.2h0M982.7 1057.8h0M918.3 1069.9h0M888.8 1078.6h0M872.0 1082.3h0M862.6 1088.0h0M870.3 1088.7h0M904.9 1089.0h0M981.0 1090.7h0M1082.6 1071.3h0M1093.3 1071.3h0M1076.6 1082.3h0M1103.4 1082.3h0M1054.8 1087.4h0M1063.2 1088.0h0M1173.2 1081.3h0M1224.1 1071.3h0M1224.8 1080.6h0M1240.9 1082.3h0M886.4 1102.4h0M877.0 1111.5h0M892.1 1113.2h0M902.9 1108.1h0M880.4 1124.9h0M900.5 1124.9h0M890.5 1132.3h0M879.4 1135.6h0M1086.0 1098.1h0M1082.6 1107.5h0M1205.0 1102.4h0M1057.1 1119.2h0M1101.7 1119.9h0M1107.8 1135.0h0M1131.9 1114.9h0M1140.3 1127.6h0M1181.2 1117.5h0M1211.4 1125.9h0M1247.6 1131.6h0M1235.9 1141.0h0M1239.2 1147.7h0M855.3 1145.0h0M868.7 1155.1h0M864.6 1163.5h0M862.0 1169.2h0M903.2 1160.1h0M1147.7 1143.4h0M1169.8 1139.0h0M1157.7 1156.8h0M1175.5 1155.1h0M1136.9 1160.1h0M1063.2 1165.2h0M1068.2 1171.2h0M1089.3 1161.8h0M1100.7 1166.8h0M1195.6 1170.9h0M1242.6 1166.2h0M1254.3 1161.8h0M1260.3 1178.6h0M932.4 1177.6h0M1053.1 1188.6h0M1079.9 1195.3h0M1089.3 1193.7h0M1097.4 1196.0h0M1108.4 1204.4h0M1136.3 1187.0h0M1145.3 1200.7h0M1172.2 1185.3h0M1212.4 1194.7h0M1225.8 1194.7h0M1231.5 1191.3h0M893.8 1203.7h0M957.5 1199.7h0M965.2 1204.4h0M1249.3 1213.8h0M856.9 1228.2h0M1050.4 1233.2h0M1061.5 1232.9h0M1163.8 1220.5h0M1171.1 1228.2h0M1186.6 1232.9h0M1208.4 1230.5h0M1220.8 1229.5h0M913.9 1248.3h0M914.9 1263.1h0M915.6 1281.9h0M1037.3 1249.0h0M1059.1 1254.0h0M1052.1 1266.4h0M1043.0 1278.2h0M1095.7 1255.0h0M1120.8 1246.3h0M1134.3 1247.3h0M1139.3 1258.4h0M1152.0 1241.6h0M1157.7 1253.0h0M1133.6 1279.8h0M1164.4 1277.5h0M1244.9 1241.3h0M1234.9 1251.7h0M1228.2 1262.4h0M1230.2 1275.1h0M861.3 1274.1h0M849.2 1294.9h0M928.4 1299.3h0M1195.6 1291.9h0M1200.0 1298.3h0M1053.1 1313.7h0M1079.3 1313.4h0M1064.2 1324.4h0M1096.0 1333.8h0M1210.0 1316.7h0M1229.2 1332.8h0M1185.6 1326.8h0M1181.2 1334.5h0M1192.3 1339.5h0M1147.0 1345.2h0M859.3 1338.5h0M944.8 1338.5h0M1047.4 1350.6h0M1078.9 1361.3h0M1199.6 1356.3h0M1197.3 1364.7h0M1189.9 1375.8h0M1218.1 1389.8h0M1204.0 1402.2h0M943.4 1401.6h0M1072.2 1406.6h0M857.9 1426.1h0M941.8 1428.4h0M1055.8 1428.4h0M1069.9 1438.5h0M1065.8 1445.2h0M1110.1 1442.8h0M1266.7 943.8h0M1268.4 950.5h0M1293.5 935.4h0M1288.5 945.5h0M1296.9 938.8h0M1308.6 923.7h0M1315.3 930.4h0M1328.7 918.7h0M1348.8 932.1h0M1357.2 928.7h0M1365.6 923.7h0M1365.6 930.4h0M1342.1 942.2h0M1375.7 943.8h0M1380.7 948.9h0M1385.7 948.9h0M1395.8 922.0h0M1415.9 937.8h0M1439.4 923.0h0M1437.7 952.2h0M1320.3 955.6h0M1360.6 958.9h0M1288.5 958.9h0M1291.8 970.7h0M1304.6 973.3h0M1476.3 962.3h0M1513.2 927.1h0M1511.5 948.9h0M1528.2 963.9h0M1633.9 927.1h0M1640.6 923.0h0M1623.8 942.2h0M1639.9 942.2h0M1731.1 928.7h0M1742.9 918.7h0M1736.2 947.9h0M1722.7 958.9h0M1771.4 948.9h0M1276.7 989.1h0M1281.8 997.5h0M1293.5 1007.5h0M1286.8 1029.3h0M1275.1 1047.8h0M1280.1 1046.1h0M1268.4 1049.5h0M1265.0 1024.3h0M1333.7 992.5h0M1345.5 999.2h0M1333.7 1012.6h0M1358.9 1006.9h0M1320.3 1027.7h0M1328.7 1027.0h0M1350.5 1024.3h0M1355.5 1024.3h0M1369.0 1032.7h0M1379.0 1034.4h0M1337.1 1046.1h0M1345.5 1051.1h0M1360.6 1046.1h0M1372.3 1057.8h0M1394.1 1057.8h0M1387.4 987.4h0M1395.8 989.1h0M1389.1 1006.9h0M1404.2 1016.9h0M1422.6 996.8h0M1441.1 996.8h0M1451.1 999.2h0M1463.5 992.5h0M1442.7 1013.6h0M1451.1 1028.7h0M1459.5 1030.3h0M1467.9 1032.0h0M1513.8 1006.9h0M1620.5 967.3h0M1626.5 980.0h0M1612.1 985.1h0M1613.8 1011.9h0M1755.3 990.1h0M1760.6 1003.5h0M1747.9 1011.6h0M1333.7 1071.9h0M1332.1 1082.3h0M1400.8 1086.3h0M1580.2 1034.4h0M1559.4 1053.8h0M1525.9 1057.2h0M1547.4 1066.9h0M1576.9 1082.3h0M1585.3 1079.6h0M1497.4 1076.3h0M1625.5 1086.3h0M1726.1 1032.7h0M1732.8 1036.0h0M1722.7 1056.2h0M1732.8 1051.1h0M1741.2 1046.1h0M1751.3 1049.5h0M1724.4 1070.6h0M1752.9 1075.6h0M1750.6 1090.7h0M1767.3 1099.8h0M1766.3 1109.8h0M1338.1 1117.2h0M1370.6 1119.2h0M1379.0 1123.9h0M1403.2 1121.6h0M1400.8 1135.0h0M1445.1 1109.8h0M1481.3 1112.2h0M1500.7 1118.2h0M1543.3 1107.5h0M1633.9 1114.9h0M1742.9 1117.5h0M1280.1 1121.6h0M1270.0 1135.0h0M1295.9 1139.0h0M1274.4 1167.8h0M1454.5 1145.0h0M1449.4 1152.7h0M1479.6 1155.1h0M1476.9 1163.5h0M1540.7 1151.1h0M1545.0 1172.9h0M1515.8 1171.2h0M1593.0 1156.8h0M1573.5 1177.9h0M1732.8 1143.4h0M1738.5 1151.7h0M1737.2 1155.8h0M1758.6 1141.0h0M1763.0 1148.4h0M1756.3 1158.4h0M1745.2 1171.9h0M1747.9 1183.6h0M1769.7 1183.6h0M1769.7 1127.6h0M1389.1 1180.2h0M1399.1 1182.6h0M1362.9 1199.4h0M1414.2 1199.4h0M1435.0 1193.7h0M1495.7 1198.0h0M1499.7 1204.7h0M1381.7 1211.4h0M1382.4 1227.2h0M1529.9 1223.8h0M1738.5 1206.1h0M1756.3 1208.8h0M1758.6 1226.2h0M1350.5 1238.3h0M1464.5 1229.9h0M1443.4 1243.3h0M1413.2 1252.3h0M1426.6 1257.4h0M1466.2 1253.4h0M1482.3 1261.4h0M1494.0 1276.5h0M1272.4 1261.7h0M1283.4 1283.2h0M1424.3 1298.3h0M1453.8 1300.0h0M1769.7 1293.3h0M1271.0 1330.1h0M1282.4 1329.5h0M1541.7 1328.8h0M1560.8 1331.2h0M1562.8 1349.6h0M1546.0 1358.0h0M1575.2 1362.3h0M1558.4 1381.5h0M1746.2 1333.8h0M1390.8 1364.0h0M1478.6 1393.2h0M1494.7 1389.2h0M1593.6 1511.2h0M1769.7 1485.4h0M1783.7 923.0h0M1828.2 923.0h0M1951.7 925.4h0M1784.7 940.4h0M1775.3 949.8h0M1849.6 941.1h0M1852.3 949.8h0M1839.6 951.1h0M1933.6 949.8h0M2000.6 947.1h0M2057.5 932.1h0M2059.1 940.4h0M2083.2 944.4h0M2065.8 954.5h0M2159.2 942.4h0M1864.0 964.9h0M1924.3 964.9h0M2022.3 964.9h0M2045.8 975.6h0M2098.3 969.9h0M2108.3 963.9h0M1891.5 975.9h0M1786.4 983.9h0M1939.3 983.3h0M1964.4 987.3h0M1952.1 1003.0h0M1808.1 1011.7h0M1785.4 1017.4h0M1781.4 1028.4h0M1806.5 1034.8h0M1868.4 1034.1h0M1904.5 1034.1h0M2033.7 1040.2h0M2140.8 1028.4h0M2150.2 1040.2h0M1796.1 1066.9h0M1797.1 1078.6h0M1840.6 1083.3h0M1889.1 1082.0h0M1913.6 1064.3h0M1965.1 1063.6h0M1982.8 1062.6h0M1972.8 1081.7h0M2020.3 1074.3h0M2032.4 1084.3h0M2064.2 1069.3h0M1932.0 1089.4h0M1931.6 1100.1h0M2044.8 1103.4h0M1772.0 1097.7h0M1778.7 1119.5h0M1773.7 1127.8h0M1792.1 1117.8h0M1793.8 1122.8h0M1804.8 1115.1h0M1813.8 1123.8h0M1822.9 1115.5h0M2031.4 1133.5h0M1842.3 1151.9h0M1880.8 1152.9h0M1900.8 1143.9h0M1930.0 1149.6h0M1946.0 1145.2h0M1956.1 1153.9h0M1788.1 1167.3h0M1772.0 1183.7h0M1793.8 1184.7h0M1901.9 1188.8h0M1925.9 1176.4h0M1953.7 1173.4h0M1955.4 1196.5h0M1973.8 1189.8h0M2018.7 1180.7h0M1788.7 1223.9h0M1798.8 1223.2h0M1829.9 1230.6h0M1880.1 1222.2h0M1941.0 1219.9h0M1947.7 1221.6h0M1944.4 1229.9h0M1926.6 1232.6h0M1914.2 1244.0h0M1893.2 1251.7h0M2019.0 1233.6h0M2007.9 1256.7h0M1809.5 1265.1h0M1799.4 1281.1h0M1942.7 1264.1h0M1915.2 1274.4h0M1980.5 1271.8h0M1773.7 1294.2h0M1790.4 1307.6h0M1801.5 1300.9h0M1819.9 1304.2h0M1843.3 1296.9h0M1855.7 1314.6h0M1916.6 1300.9h0M1928.3 1310.2h0M1944.4 1306.9h0M1957.7 1309.6h0M1810.5 1332.0h0M1831.2 1333.0h0M1780.4 1356.1h0M1820.9 1360.8h0M1902.5 1365.8h0M1968.8 1348.7h0M1975.5 1344.4h0M1982.2 1348.7h0M1970.1 1360.4h0M1966.1 1374.8h0M2009.6 1358.8h0M1811.5 1416.3h0M1831.6 1422.4h0M1802.8 1436.4h0M2001.9 1409.6h0M1959.4 1446.8h0M1961.1 1463.5h0M1967.8 1486.6h0M1773.7 1485.9h0M1801.5 1484.9h0M1855.7 1496.0h0M1961.1 1541.8h0M357.9 240.3h0M341.1 376.3h0M339.1 389.7h0M288.8 423.2h0M454.3 419.8h0M675.4 368.3h0M655.3 395.1h0M674.1 396.4h0M657.3 409.8h0M693.5 406.5h0M711.6 425.2h0M714.3 429.9h0M777.9 429.9h0M898.5 359.6h0M938.7 342.8h0M885.1 403.1h0M887.1 409.8h0M911.9 384.3h0M910.6 397.7h0M924.0 403.1h0M925.3 411.1h0M925.3 417.8h0M911.9 415.8h0M875.1 426.5h0M898.5 431.2h0M1007.7 401.1h0M1009.1 415.8h0M1003.7 425.9h0M1015.8 429.9h0M1022.5 433.2h0M952.8 434.6h0M1091.5 431.2h0M1486.1 309.0h0M1484.8 317.7h0M1504.2 326.5h0M1502.8 334.5h0M1504.8 344.5h0M1518.2 337.8h0M1519.6 347.9h0M1522.9 361.3h0M1533.0 344.5h0M1535.0 354.6h0M1536.3 369.3h0M1551.7 347.9h0M1553.1 369.3h0M1556.4 376.0h0M1571.8 383.4h0M1573.2 396.1h0M1583.2 401.5h0M1569.8 408.2h0M1555.1 412.9h0M1598.6 346.5h0M1603.3 366.0h0M1602.0 370.0h0M1605.3 394.8h0M1600.0 398.1h0M1506.2 429.6h0M1522.9 435.0h0M1538.3 423.6h0M1549.7 431.6h0M1655.6 388.1h0M1656.9 361.3h0M1655.6 349.2h0M1665.6 349.2h0M1677.0 344.5h0M1675.0 341.2h0M1658.9 319.8h0M1660.3 304.3h0M1662.3 295.6h0M1667.0 280.9h0M1670.3 277.5h0M1680.4 280.9h0M1660.3 264.1h0M1670.3 259.5h0M1673.7 244.0h0M1672.3 228.6h0M1679.0 237.3h0M1687.1 240.7h0M1683.7 264.1h0M1691.8 257.4h0M1697.1 244.0h0M1693.8 230.6h0M1690.4 219.3h0M1697.1 207.2h0M1705.8 193.8h0M1707.2 175.0h0M1701.8 210.5h0M1710.5 223.9h0M1719.2 208.5h0M1720.6 223.9h0M1717.2 237.3h0M1715.2 252.8h0M1715.9 260.8h0M1707.2 237.3h0M1700.5 230.6h0M1687.1 227.3h0M1703.8 250.7h0M1699.1 260.8h0M1681.7 252.8h0M1708.5 200.5h0M1712.5 217.2h0M1693.8 274.2h0M1856.6 202.5h0M1971.8 232.7h0M2136.0 138.2h0M2134.6 153.6h0M2121.2 160.3h0M2122.6 169.0h0M2102.5 175.0h0M2087.7 187.1h0M2102.5 193.8h0M2119.2 200.5h0M2132.6 177.0h0M2132.6 210.5h0M2139.3 215.2h0M2148.0 219.3h0M2156.1 187.1h0M2166.1 181.7h0M2154.1 203.8h0M2162.8 210.5h0M2164.1 215.2h0M2129.3 234.0h0M2122.6 242.0h0M2146.0 237.3h0M2154.1 237.3h0M2070.3 240.7h0M2087.7 239.4h0M2112.5 260.8h0M2119.2 267.5h0M2085.7 274.2h0M2144.0 300.3h0M2072.3 326.5h0M2089.1 323.1h0M2100.5 323.1h0M2114.5 319.1h0M2069.0 347.9h0M2054.2 373.3h0M2055.6 389.4h0M2105.8 388.1h0M2112.5 388.1h0M2129.3 386.7h0M2139.3 372.0h0M2148.0 365.3h0M2073.7 413.5h0M2124.6 428.3h0M2161.4 417.6h0M1857.9 331.1h0M1859.9 339.2h0M1871.3 335.8h0M1884.7 323.1h0M1894.8 322.4h0M1835.8 351.2h0M1844.5 356.6h0M1870.0 361.3h0M1886.7 353.2h0M1894.8 354.6h0M1908.2 351.2h0M1883.4 364.6h0M1824.4 376.0h0M1882.7 388.1h0M1922.9 396.8h0M1937.0 409.5h0M1836.5 410.2h0M1822.4 421.6h0M1847.9 422.3h0M1859.9 418.9h0M1873.3 429.6h0M1920.2 435.0h0M1978.5 326.5h0M1977.2 341.2h0M1989.9 353.2h0M1988.6 394.8h0M1993.3 417.6h0M339.0 443.0h0M284.5 463.8h0M358.4 457.1h0M359.1 462.1h0M359.8 470.5h0M318.3 474.8h0M338.3 474.5h0M343.0 480.5h0M289.5 488.2h0M270.4 499.9h0M321.3 498.2h0M285.5 510.0h0M301.2 516.0h0M305.5 527.4h0M322.3 524.7h0M276.1 533.4h0M320.6 540.1h0M277.1 545.8h0M268.1 549.1h0M265.4 553.5h0M361.8 542.4h0M362.4 561.5h0M297.2 559.2h0M335.7 560.8h0M287.1 577.6h0M302.2 574.9h0M303.9 590.9h0M305.5 601.0h0M313.9 612.7h0M308.9 619.4h0M305.5 622.7h0M290.5 647.8h0M272.1 651.2h0M283.8 666.3h0M282.1 678.0h0M270.4 683.0h0M280.4 688.0h0M295.5 691.4h0M323.0 674.6h0M334.0 693.0h0M344.0 698.0h0M344.0 714.8h0M347.4 724.8h0M352.4 735.9h0M265.4 705.7h0M292.2 718.1h0M310.6 725.5h0M327.3 733.2h0M262.0 737.5h0M278.8 744.9h0M273.8 749.9h0M333.3 750.9h0M292.2 766.7h0M263.7 771.7h0M278.1 776.7h0M266.4 801.8h0M326.3 797.4h0M350.7 783.4h0M365.1 800.1h0M355.7 809.5h0M374.8 824.2h0M352.4 827.9h0M354.7 837.9h0M370.8 842.0h0M367.5 848.6h0M310.6 830.2h0M329.0 849.3h0M294.5 855.3h0M312.2 875.4h0M349.1 888.8h0M330.6 913.9h0M472.9 483.9h0M529.1 458.8h0M539.8 481.5h0M440.4 546.8h0M506.4 554.1h0M490.3 563.5h0M516.4 527.4h0M534.1 526.7h0M549.2 516.7h0M557.2 547.4h0M563.2 544.1h0M576.0 540.7h0M569.3 570.9h0M585.0 564.2h0M620.1 555.8h0M519.7 601.0h0M563.2 610.0h0M552.2 622.1h0M547.2 634.5h0M569.3 627.1h0M555.9 655.5h0M500.3 660.6h0M509.7 667.9h0M523.8 670.6h0M550.9 675.6h0M619.1 610.4h0M605.1 678.6h0M694.8 440.3h0M733.9 454.4h0M732.9 479.8h0M674.4 467.8h0M638.5 471.1h0M636.9 485.5h0M665.3 493.2h0M653.6 501.6h0M646.9 519.0h0M683.7 523.3h0M696.4 562.5h0M715.5 567.5h0M658.0 575.2h0M677.0 590.9h0M692.1 602.0h0M752.3 547.4h0M750.7 557.5h0M621.8 652.2h0M639.2 648.5h0M632.5 671.3h0M644.2 667.9h0M659.6 667.3h0M666.0 639.5h0M681.0 671.3h0M690.4 674.6h0M711.2 647.8h0M711.2 658.9h0M720.5 624.4h0M740.6 664.6h0M737.3 678.0h0M733.9 683.0h0M749.0 646.2h0M757.4 597.6h0M690.4 691.4h0M660.3 699.7h0M723.9 694.7h0M727.2 704.7h0M735.6 706.4h0M740.6 723.1h0M697.8 723.1h0M648.6 720.8h0M667.0 728.2h0M626.8 739.9h0M707.8 746.6h0M716.5 746.6h0M727.2 742.2h0M745.6 750.6h0M667.0 754.9h0M652.6 763.3h0M651.9 777.7h0M623.5 772.7h0M752.3 780.7h0M740.6 831.2h0M742.3 844.3h0M749.0 862.0h0M719.9 861.4h0M717.2 882.1h0M707.2 797.8h0M700.5 818.5h0M705.5 815.2h0M662.0 807.8h0M672.0 805.1h0M680.4 801.8h0M690.4 801.8h0M721.2 790.1h0M730.6 831.2h0M702.1 840.3h0M680.4 872.1h0M699.8 895.5h0M668.7 893.2h0M672.0 853.0h0M650.3 873.7h0M636.9 881.4h0M641.9 883.8h0M648.6 912.2h0M622.8 905.5h0M607.8 901.5h0M634.5 822.5h0M640.2 838.6h0M642.9 850.3h0M617.5 857.0h0M601.7 849.7h0M594.0 862.0h0M596.7 872.1h0M573.3 908.9h0M586.7 788.4h0M595.7 768.3h0M606.8 787.7h0M590.0 803.5h0M586.7 818.5h0M598.4 826.2h0M611.8 831.2h0M572.6 848.0h0M578.3 756.6h0M581.7 738.2h0M578.3 713.1h0M559.2 756.6h0M540.5 734.2h0M535.8 784.4h0M509.0 769.0h0M523.1 761.0h0M539.8 882.1h0M549.2 855.3h0M519.7 834.6h0M528.8 835.3h0M455.5 703.1h0M472.2 717.5h0M502.3 728.2h0M495.6 739.9h0M489.6 749.9h0M441.4 747.6h0M433.4 781.7h0M462.2 805.1h0M446.8 830.6h0M477.9 834.3h0M461.2 866.0h0M427.0 889.5h0M444.4 897.2h0M435.4 910.6h0M490.3 898.8h0M482.9 915.6h0M908.2 438.7h0M952.5 438.0h0M1002.8 438.0h0M1012.9 442.0h0M1017.9 438.0h0M922.3 453.1h0M963.2 450.4h0M940.8 463.8h0M883.1 463.2h0M895.5 475.6h0M842.8 469.5h0M772.1 481.6h0M1012.9 452.1h0M1014.5 457.1h0M1007.8 463.8h0M1016.2 465.5h0M1022.9 463.8h0M1028.0 468.9h0M1034.7 470.5h0M1011.2 470.5h0M1002.1 476.2h0M1024.6 481.6h0M998.8 491.7h0M1029.0 496.7h0M1040.7 499.0h0M1018.9 505.1h0M1021.2 514.1h0M997.1 514.8h0M961.6 495.0h0M1100.1 449.7h0M1074.2 463.8h0M1105.1 507.4h0M1128.6 504.1h0M1128.6 509.1h0M1143.0 522.5h0M1153.7 541.0h0M1135.9 545.3h0M1106.8 550.0h0M1116.1 566.1h0M1149.7 568.8h0M773.8 510.8h0M793.9 520.8h0M779.1 530.2h0M907.2 542.6h0M950.2 536.9h0M960.9 548.7h0M993.7 540.3h0M1024.6 551.0h0M1039.7 554.4h0M1022.9 569.5h0M970.3 573.8h0M759.7 554.4h0M796.6 556.0h0M791.5 566.1h0M764.7 579.5h0M780.8 578.5h0M798.2 585.6h0M815.0 574.5h0M828.4 590.6h0M844.5 581.9h0M853.6 575.2h0M851.9 555.0h0M873.7 583.9h0M786.5 603.0h0M799.9 604.0h0M814.3 619.8h0M811.7 629.2h0M894.8 619.8h0M921.3 602.3h0M955.9 595.6h0M1030.3 624.1h0M1115.1 618.1h0M1141.3 624.1h0M1153.7 651.6h0M1251.0 643.9h0M1207.4 687.8h0M1176.5 720.4h0M1118.5 723.7h0M1167.1 760.6h0M1251.0 730.4h0M1252.6 740.5h0M1259.3 753.9h0M1257.7 770.0h0M1261.0 809.2h0M1254.3 819.3h0M766.4 629.2h0M768.1 658.3h0M761.4 668.4h0M830.1 653.3h0M841.2 646.6h0M800.6 666.7h0M761.4 686.8h0M816.0 683.5h0M816.7 698.6h0M818.4 705.3h0M794.9 705.3h0M773.1 715.3h0M831.8 731.4h0M845.2 713.7h0M794.2 727.1h0M797.6 730.4h0M788.2 732.1h0M778.1 738.8h0M784.8 742.2h0M769.7 752.2h0M768.1 760.6h0M789.9 757.3h0M764.7 779.1h0M771.4 778.4h0M803.3 767.3h0M806.6 772.3h0M810.0 780.7h0M834.5 772.3h0M802.6 798.5h0M825.1 798.5h0M854.2 813.3h0M818.4 827.7h0M828.4 826.0h0M835.8 840.4h0M807.3 845.1h0M783.2 860.2h0M804.9 862.9h0M810.0 867.9h0M803.3 890.4h0M826.7 887.0h0M763.0 899.8h0M846.9 909.8h0M939.1 635.5h0M934.1 648.3h0M946.5 660.0h0M968.6 624.1h0M990.4 621.4h0M992.7 644.2h0M996.1 656.7h0M969.3 662.7h0M972.6 680.8h0M978.7 678.4h0M974.3 712.0h0M976.0 732.1h0M959.2 723.7h0M1031.3 670.1h0M920.6 770.7h0M919.0 788.4h0M935.1 780.7h0M907.2 802.5h0M978.7 770.0h0M982.7 785.8h0M996.1 792.5h0M999.4 790.8h0M967.6 807.6h0M1044.7 779.1h0M882.1 825.0h0M944.8 845.5h0M987.0 831.0h0M983.4 861.2h0M1033.0 844.4h0M1035.7 852.8h0M989.4 890.4h0M986.0 899.8h0M954.2 913.2h0M1098.4 772.3h0M1126.9 767.3h0M1160.4 782.4h0M1157.1 800.8h0M1150.4 810.9h0M1111.8 805.9h0M1118.5 832.0h0M1144.7 836.1h0M1130.2 869.6h0M1202.3 842.1h0M1193.3 900.8h0M1261.0 913.2h0M1470.2 473.9h0M1488.0 487.3h0M1501.4 488.0h0M1568.5 480.6h0M1588.6 471.2h0M1606.4 500.0h0M1648.3 491.3h0M1653.3 512.5h0M1664.7 525.9h0M1664.1 546.0h0M1645.6 549.3h0M1646.6 560.4h0M1468.9 523.5h0M1457.2 544.3h0M1311.9 551.7h0M1524.2 562.1h0M1597.0 533.6h0M1601.4 557.7h0M1598.0 564.4h0M1581.2 573.8h0M1595.3 582.9h0M1587.6 603.7h0M1419.3 570.5h0M1416.9 583.9h0M1420.3 600.6h0M1446.8 570.5h0M1508.1 600.6h0M1644.9 602.3h0M1610.4 618.1h0M1471.9 629.2h0M1437.0 637.5h0M1458.8 639.2h0M1539.3 629.2h0M1548.4 637.5h0M1417.6 649.3h0M1586.3 651.6h0M1352.2 652.6h0M1339.4 663.4h0M1409.9 677.8h0M1364.9 691.2h0M1328.0 701.9h0M1326.4 723.7h0M1447.8 695.2h0M1489.0 691.2h0M1508.8 695.2h0M1608.1 663.4h0M1650.6 668.4h0M1590.3 693.5h0M1591.0 703.6h0M1564.5 700.2h0M1569.2 712.0h0M1578.5 715.3h0M1635.6 701.3h0M1429.3 710.3h0M1432.0 718.7h0M1421.6 727.7h0M1446.1 740.5h0M1459.5 754.6h0M1490.4 742.8h0M1353.9 736.5h0M1363.3 760.6h0M1642.3 736.5h0M1563.5 757.3h0M1764.0 728.8h0M1637.2 767.3h0M1651.7 789.1h0M1630.5 799.2h0M1638.9 805.9h0M1625.5 810.2h0M1581.9 796.8h0M1529.9 799.2h0M1484.7 773.0h0M1472.9 782.4h0M1433.3 778.4h0M1375.7 783.4h0M1301.2 789.8h0M1311.9 785.8h0M1310.3 798.5h0M1285.1 802.5h0M1341.1 805.9h0M1409.9 808.2h0M1410.9 825.3h0M1324.7 824.3h0M1300.2 827.7h0M1368.3 828.7h0M1473.9 820.3h0M1455.1 828.7h0M1491.4 846.1h0M1629.9 832.7h0M1615.4 846.8h0M1629.9 850.1h0M1636.6 848.8h0M1643.3 846.1h0M1566.8 849.5h0M1557.4 861.2h0M1618.8 863.6h0M1767.3 824.3h0M1752.9 864.6h0M1763.0 892.4h0M1742.9 913.2h0M1306.9 849.5h0M1315.3 856.2h0M1320.3 865.6h0M1323.7 870.6h0M1298.5 863.6h0M1304.2 884.7h0M1306.9 891.4h0M1317.0 891.4h0M1291.8 904.1h0M1342.8 893.7h0M1328.7 913.2h0M1355.5 913.2h0M1397.5 866.9h0M1406.5 857.9h0M1430.3 861.2h0M1384.0 883.0h0M1405.2 885.7h0M1436.0 893.7h0M1408.5 907.2h0M1461.2 909.8h0M1475.3 909.8h0M1492.4 884.0h0M1527.2 875.6h0M1614.8 894.7h0M1616.4 899.1h0M1610.4 911.5h0M1897.5 448.7h0M1920.9 438.0h0M2052.5 451.4h0M2096.6 497.2h0M2041.4 503.3h0M2039.7 517.3h0M2039.1 524.0h0M1991.2 517.3h0M1996.2 524.0h0M1999.6 532.4h0M2013.0 538.1h0M2025.3 539.1h0M2027.0 557.5h0M2095.6 527.4h0M1907.5 510.6h0M1905.9 517.3h0M1909.2 530.7h0M1833.2 525.7h0M1813.8 550.1h0M1919.3 575.9h0M2011.3 589.3h0M1877.4 606.0h0M1936.0 611.0h0M1948.4 605.3h0M1993.9 604.3h0M2056.5 605.3h0M1815.5 620.4h0M2010.6 632.8h0M2052.5 635.1h0M2083.2 637.8h0M2089.9 636.1h0M2079.2 647.2h0M2127.4 638.8h0M2151.9 648.5h0M2157.9 646.8h0M1985.2 641.8h0M1986.2 649.5h0M1950.0 650.2h0M2015.3 650.2h0M1837.3 652.2h0M1938.3 669.6h0M1990.2 672.9h0M2023.0 674.6h0M2037.4 666.3h0M2073.2 681.3h0M2116.7 663.6h0M1996.2 694.7h0M2001.3 693.0h0M2006.3 691.4h0M2029.0 692.0h0M2111.7 698.0h0M2068.2 713.1h0M1826.2 710.4h0M1888.1 713.8h0M1919.3 714.1h0M1854.0 719.8h0M1848.3 725.5h0M2017.3 750.9h0M2025.3 748.2h0M1922.6 755.9h0M2141.1 752.6h0M2140.1 758.3h0M2127.8 768.3h0M2094.3 766.7h0M2042.4 762.6h0M2064.8 769.3h0M2007.3 771.0h0M1777.0 757.6h0M1838.9 778.4h0M1911.9 780.7h0M1862.4 789.1h0M2036.4 785.1h0M2060.8 787.4h0M2077.6 785.1h0M2049.8 793.4h0M2048.1 801.8h0M2047.1 808.5h0M2063.2 803.5h0M1865.0 807.8h0M1867.4 821.2h0M1806.5 824.2h0M1962.8 814.2h0M2017.3 828.6h0M2074.9 820.2h0M2148.5 813.5h0M2106.7 828.6h0M2110.0 835.9h0M2093.3 842.0h0M2081.6 848.0h0M2091.6 855.3h0M2100.0 858.0h0M2034.7 855.3h0M2060.5 853.7h0M1876.4 852.0h0M1877.4 863.7h0M1827.9 862.7h0M1778.0 865.4h0M1818.2 884.5h0M1852.3 888.8h0M1868.4 885.5h0M1890.8 891.5h0M1899.8 888.8h0M1935.0 891.1h0M1983.8 903.9h0M2029.7 900.5h0M2077.2 876.4h0M2080.6 900.5h0M2115.7 897.2h0" stroke="#00ff00"/>
<path d="M368.5 2075.2h0M367.1 2230.8h0M363.8 2274.0h0M342.5 2294.6h0M361.8 2294.6h0M430.3 2289.3h0M473.6 2286.0h0M550.1 2218.1h0M558.7 2232.8h0M562.1 2239.4h0M610.0 2196.2h0M637.9 2201.5h0M636.6 2219.5h0M644.6 2224.1h0M655.2 2220.8h0M661.2 2217.5h0M661.2 2234.8h0M673.2 2229.4h0M697.8 2229.4h0M715.1 2202.8h0M610.0 2241.4h0M613.3 2239.4h0M623.3 2247.4h0M620.0 2254.0h0M626.6 2244.7h0M638.6 2244.1h0M651.2 2252.7h0M635.3 2262.7h0M657.9 2266.0h0M679.8 2264.7h0M641.2 2277.3h0M657.9 2280.6h0M625.3 2282.6h0M698.5 2278.0h0M695.1 2287.3h0M716.4 2280.6h0M801.6 2264.0h0M820.9 2270.7h0M622.0 2292.6h0M671.2 2291.3h0M676.5 2295.9h0M713.1 2294.6h0M733.1 2297.9h0M1344.6 2268.9h0M1784.8 2221.6h0M1786.2 2276.2h0M2014.6 2225.6h0M2027.2 2239.6h0M2015.9 2253.6h0M1995.3 2274.2h0M2054.5 2272.2h0M2039.2 2288.2h0M2049.2 2284.9h0M2086.5 2281.5h0M2135.8 2230.3h0M2122.5 2290.2h0M1567.7 2291.5h0M1592.3 2283.5h0M1726.2 2290.2h0M2029.2 2297.5h0M2135.8 2294.9h0M565.4 2667.4h0M542.1 2684.0h0M628.6 2659.4h0M725.1 2681.4h0M946.0 2658.1h0M939.3 2672.7h0M1025.8 2666.1h0M1029.1 2684.7h0M1079.0 2662.8h0M1079.0 2676.1h0M1074.4 2680.7h0M1115.6 2658.1h0M1112.3 2668.1h0M1228.7 2659.4h0M1208.8 2669.4h0M1145.6 2680.7h0M1288.0 2654.8h0M1394.5 2666.1h0M1636.3 2652.8h0M1577.7 2654.2h0M1802.8 2670.8h0M1812.8 2664.1h0M1822.8 2664.1h0M1834.8 2669.5h0M1858.1 2678.1h0M1877.4 2679.5h0M1769.5 2676.1h0M1962.6 2659.5h0M1968.0 2669.5h0M265.8 2360.7h0M266.0 2393.7h0M268.1 2497.6h0M269.3 2448.5h0M270.9 2396.0h0M272.1 2430.3h0M273.3 2506.2h0M273.8 2375.8h0M275.3 2476.8h0M276.4 2392.1h0M277.8 2399.7h0M279.0 2409.1h0M280.2 2416.0h0M282.0 2397.1h0M282.4 2490.6h0M283.6 2416.1h0M285.8 2460.4h0M286.9 2441.9h0M287.7 2433.1h0M289.3 2400.1h0M290.6 2423.5h0M291.3 2460.0h0M292.6 2474.2h0M294.3 2393.9h0M295.3 2438.9h0M296.5 2400.2h0M298.2 2313.7h0M299.5 2420.8h0M300.9 2516.0h0M302.3 2391.0h0M302.5 2429.3h0M303.9 2406.2h0M305.5 2391.4h0M306.8 2364.3h0M307.9 2392.1h0M309.2 2403.1h0M310.6 2387.0h0M311.6 2487.6h0M313.5 2346.4h0M314.4 2418.5h0M315.1 2458.9h0M317.3 2425.9h0M317.5 2393.0h0M318.8 2391.9h0M320.6 2398.4h0M321.6 2332.1h0M323.5 2451.0h0M324.1 2376.2h0M325.3 2460.1h0M327.1 2391.2h0M328.1 2416.5h0M329.0 2409.7h0M330.1 2374.2h0M331.4 2468.9h0M332.9 2568.0h0M334.5 2541.3h0M335.8 2463.5h0M337.1 2399.9h0M338.7 2455.6h0M339.9 2512.2h0M341.1 2398.3h0M342.7 2419.7h0M344.0 2457.2h0M346.3 2503.4h0M347.0 2422.5h0M348.2 2392.4h0M348.9 2353.5h0M350.7 2420.7h0M351.6 2369.6h0M353.7 2399.3h0M354.1 2424.9h0M355.5 2514.8h0M356.9 2381.4h0M358.9 2426.3h0M359.7 2401.1h0M360.9 2329.9h0M364.1 2553.2h0M365.5 2463.3h0M369.4 2427.1h0M370.9 2445.4h0M372.0 2371.4h0M373.1 2465.0h0M375.1 2391.9h0M376.0 2411.7h0M377.6 2423.5h0M378.4 2446.4h0M380.4 2441.1h0M380.5 2378.3h0M382.4 2380.3h0M383.0 2393.4h0M384.9 2426.1h0M385.9 2391.2h0M387.3 2448.7h0M389.1 2465.0h0M389.2 2547.5h0M390.7 2466.5h0M392.9 2423.5h0M393.8 2430.2h0M394.5 2419.5h0M395.9 2509.8h0M396.8 2615.8h0M399.2 2533.1h0M400.1 2438.5h0M401.7 2501.5h0M402.2 2522.8h0M403.4 2448.8h0M405.4 2321.8h0M406.0 2450.8h0M407.5 2430.1h0M408.4 2505.3h0M409.6 2386.0h0M411.3 2469.6h0M411.9 2469.7h0M413.5 2502.2h0M415.0 2490.1h0M415.8 2485.0h0M417.9 2433.8h0M419.3 2469.2h0M420.4 2461.5h0M421.7 2388.6h0M422.0 2529.4h0M424.3 2432.7h0M425.5 2369.2h0M426.8 2464.1h0M427.3 2472.8h0M429.2 2482.1h0M431.8 2481.8h0M432.8 2493.6h0M433.8 2461.1h0M435.4 2545.5h0M436.1 2419.0h0M438.2 2555.9h0M438.9 2489.0h0M440.6 2430.3h0M441.3 2438.0h0M442.3 2366.1h0M444.1 2473.4h0M445.3 2441.2h0M446.2 2383.5h0M447.2 2628.0h0M449.4 2535.2h0M450.1 2522.2h0M451.1 2345.3h0M452.8 2474.7h0M453.8 2413.4h0M454.8 2431.5h0M455.9 2495.5h0M458.1 2301.7h0M458.7 2421.4h0M460.8 2568.4h0M461.9 2378.3h0M463.0 2402.0h0M464.0 2497.8h0M465.9 2394.3h0M466.9 2443.1h0M467.4 2357.4h0M468.6 2609.0h0M470.9 2311.6h0M471.7 2465.5h0M472.4 2359.3h0M475.0 2532.8h0M476.0 2494.0h0M477.8 2459.5h0M479.3 2561.2h0M480.8 2505.5h0M481.4 2458.1h0M482.6 2348.6h0M483.9 2344.9h0M485.8 2499.2h0M487.3 2489.4h0M487.9 2348.3h0M489.5 2400.7h0M490.3 2589.7h0M491.2 2451.6h0M492.5 2405.2h0M494.3 2329.8h0M495.8 2304.1h0M496.3 2477.2h0M498.1 2432.8h0M499.3 2531.3h0M500.6 2445.3h0M501.7 2475.3h0M502.8 2518.7h0M504.7 2523.2h0M505.6 2499.2h0M506.7 2419.7h0M507.5 2458.4h0M509.5 2452.1h0M511.0 2484.0h0M512.5 2513.4h0M513.5 2436.2h0M514.7 2522.3h0M515.4 2476.2h0M516.4 2367.1h0M517.6 2340.5h0M519.3 2468.0h0M520.9 2375.2h0M521.4 2631.5h0M522.9 2415.2h0M524.5 2364.5h0M525.5 2369.7h0M527.2 2467.8h0M528.4 2309.0h0M529.5 2351.2h0M530.5 2383.6h0M532.6 2327.1h0M533.1 2510.6h0M534.4 2326.6h0M535.7 2524.3h0M537.2 2368.0h0M538.0 2328.9h0M539.2 2338.8h0M541.2 2586.9h0M543.2 2396.9h0M545.1 2392.4h0M545.5 2538.4h0M547.4 2381.9h0M548.4 2485.1h0M551.4 2508.5h0M552.7 2376.4h0M552.9 2602.9h0M555.1 2322.8h0M555.6 2353.4h0M556.7 2607.9h0M559.9 2453.7h0M560.6 2382.2h0M564.0 2363.1h0M564.1 2390.4h0M566.6 2401.4h0M568.7 2405.8h0M569.8 2348.9h0M571.5 2582.2h0M572.4 2431.6h0M573.6 2366.8h0M574.4 2457.0h0M576.0 2539.8h0M577.9 2406.0h0M578.3 2369.8h0M579.3 2449.2h0M580.8 2335.7h0M582.4 2386.1h0M583.1 2347.1h0M585.2 2306.8h0M585.7 2354.8h0M586.9 2510.7h0M589.0 2530.4h0M589.8 2455.3h0M590.8 2442.1h0M592.5 2368.4h0M593.7 2450.1h0M594.5 2403.2h0M596.4 2516.7h0M598.0 2415.2h0M598.7 2394.2h0M600.2 2423.6h0M601.7 2346.1h0M602.1 2553.8h0M604.3 2339.5h0M604.5 2553.5h0M605.7 2465.0h0M607.4 2454.2h0M611.4 2384.0h0M612.5 2309.2h0M614.5 2349.1h0M615.8 2364.4h0M617.7 2384.8h0M619.1 2394.9h0M621.2 2310.8h0M627.3 2327.7h0M629.9 2369.1h0M631.8 2444.7h0M632.3 2383.1h0M633.6 2407.4h0M639.7 2603.7h0M642.1 2344.9h0M645.4 2321.7h0M646.2 2365.7h0M647.5 2362.8h0M649.0 2408.3h0M649.8 2509.0h0M652.5 2394.3h0M653.5 2526.2h0M659.0 2301.8h0M663.4 2394.4h0M664.5 2303.1h0M665.9 2393.3h0M666.1 2403.8h0M668.0 2509.2h0M669.5 2563.9h0M670.7 2333.2h0M674.7 2442.2h0M675.3 2417.4h0M678.5 2514.1h0M678.8 2427.1h0M681.9 2461.6h0M683.5 2345.9h0M684.1 2374.9h0M684.9 2493.7h0M686.8 2466.1h0M687.5 2450.8h0M689.4 2451.2h0M690.0 2427.6h0M692.2 2553.7h0M692.6 2499.9h0M693.7 2316.5h0M699.7 2441.6h0M700.3 2411.6h0M702.0 2482.4h0M703.6 2316.1h0M704.6 2436.5h0M705.1 2435.4h0M706.4 2436.1h0M708.7 2326.2h0M708.8 2536.8h0M710.8 2602.0h0M711.8 2559.4h0M714.6 2368.0h0M717.6 2493.8h0M718.9 2553.4h0M720.4 2474.9h0M722.3 2368.7h0M723.7 2419.2h0M725.6 2326.6h0M727.0 2404.4h0M727.8 2377.6h0M729.9 2387.6h0M730.3 2361.6h0M732.6 2406.0h0M735.1 2358.2h0M735.7 2367.6h0M736.8 2534.7h0M738.0 2394.7h0M740.1 2320.1h0M740.7 2359.0h0M741.7 2469.6h0M743.6 2547.1h0M744.2 2466.2h0M745.4 2492.0h0M746.7 2501.8h0M748.3 2475.1h0M749.1 2391.1h0M750.8 2456.1h0M752.3 2643.2h0M753.7 2480.7h0M755.1 2499.4h0M756.5 2409.9h0M756.8 2582.8h0M758.7 2322.8h0M759.3 2643.1h0M761.4 2418.5h0M762.2 2464.4h0M763.5 2335.2h0M764.9 2523.6h0M765.6 2433.1h0M767.5 2504.7h0M768.1 2453.5h0M769.7 2363.4h0M771.2 2528.7h0M772.8 2543.9h0M773.6 2336.7h0M774.6 2557.0h0M776.2 2416.5h0M777.8 2324.6h0M778.6 2449.5h0M779.4 2448.2h0M780.8 2548.2h0M782.4 2468.3h0M783.7 2581.3h0M784.5 2417.0h0M786.2 2459.1h0M787.3 2483.7h0M788.0 2563.1h0M790.0 2531.8h0M790.8 2382.0h0M793.0 2499.3h0M793.8 2608.5h0M794.3 2594.1h0M795.7 2448.2h0M797.8 2617.0h0M798.1 2417.4h0M800.2 2554.9h0M802.2 2467.0h0M803.2 2453.3h0M804.5 2472.8h0M806.8 2442.3h0M807.2 2502.7h0M808.5 2338.0h0M809.8 2432.2h0M811.1 2392.1h0M812.7 2325.5h0M813.9 2321.0h0M814.9 2484.8h0M816.5 2417.6h0M817.7 2431.1h0M818.7 2511.2h0M820.3 2482.7h0M822.0 2510.1h0M823.5 2432.8h0M825.0 2540.5h0M826.1 2429.5h0M827.7 2453.2h0M828.8 2516.6h0M830.0 2467.0h0M831.5 2440.4h0M832.6 2556.9h0M834.2 2472.2h0M834.6 2475.3h0M836.0 2465.9h0M837.5 2431.6h0M839.6 2452.3h0M840.4 2395.5h0M841.9 2576.0h0M843.1 2454.5h0M844.1 2455.0h0M844.8 2365.2h0M847.0 2407.6h0M848.2 2448.6h0M849.2 2611.0h0M850.6 2387.5h0M851.5 2384.0h0M852.5 2443.2h0M854.0 2488.1h0M855.5 2414.6h0M856.0 2511.1h0M858.3 2340.6h0M859.3 2460.8h0M860.2 2433.4h0M862.2 2413.6h0M863.4 2473.5h0M864.5 2607.7h0M865.7 2376.9h0M866.4 2637.4h0M868.1 2477.4h0M869.1 2406.9h0M870.4 2434.9h0M872.0 2407.9h0M872.9 2458.9h0M874.3 2509.2h0M875.9 2311.8h0M876.6 2462.7h0M877.4 2466.1h0M878.8 2469.0h0M880.7 2408.6h0M881.5 2489.5h0M883.6 2378.1h0M884.8 2487.4h0M885.4 2561.2h0M887.1 2420.5h0M888.1 2481.3h0M888.7 2607.0h0M891.2 2405.1h0M892.0 2395.7h0M892.7 2526.6h0M894.6 2514.7h0M896.0 2501.9h0M896.6 2439.2h0M897.8 2481.7h0M898.9 2618.7h0M900.1 2419.0h0M902.4 2611.0h0M902.8 2457.6h0M904.5 2529.7h0M906.2 2474.5h0M906.6 2479.0h0M908.3 2557.3h0M909.5 2589.7h0M910.3 2582.5h0M911.9 2551.3h0M912.7 2342.0h0M914.0 2395.6h0M915.1 2504.7h0M916.9 2527.8h0M918.3 2551.4h0M919.5 2585.7h0M921.2 2481.7h0M921.6 2633.6h0M923.1 2500.1h0M924.1 2580.2h0M925.3 2537.3h0M926.8 2520.1h0M928.0 2437.7h0M928.9 2501.3h0M931.0 2576.6h0M931.9 2637.9h0M933.5 2603.7h0M934.9 2471.9h0M935.4 2631.3h0M937.5 2397.0h0M938.3 2553.6h0M941.2 2431.5h0M942.0 2519.1h0M944.0 2483.1h0M945.2 2460.9h0M947.2 2505.3h0M948.5 2409.5h0M950.0 2581.9h0M951.5 2492.2h0M952.4 2433.5h0M953.1 2435.1h0M954.3 2646.4h0M956.0 2504.4h0M957.3 2523.8h0M958.9 2558.2h0M959.2 2433.3h0M961.0 2529.8h0M962.0 2594.6h0M963.3 2621.5h0M964.2 2310.2h0M966.5 2394.0h0M967.0 2562.1h0M968.9 2416.2h0M969.9 2592.7h0M970.5 2475.6h0M972.7 2511.6h0M973.4 2533.2h0M974.2 2598.9h0M975.5 2513.8h0M976.9 2518.5h0M979.2 2615.4h0M979.3 2498.6h0M980.6 2532.4h0M981.9 2400.3h0M983.4 2597.2h0M985.0 2569.0h0M986.7 2568.8h0M987.0 2612.7h0M988.8 2514.0h0M990.4 2608.8h0M991.0 2607.3h0M992.2 2451.4h0M994.0 2449.4h0M994.7 2579.7h0M996.5 2494.9h0M997.2 2609.4h0M998.2 2495.4h0M1000.5 2584.0h0M1001.2 2393.4h0M1002.6 2553.1h0M1003.4 2426.6h0M1005.3 2639.5h0M1006.3 2472.2h0M1007.9 2412.3h0M1008.9 2461.5h0M1009.9 2596.3h0M1011.3 2618.8h0M1013.0 2560.7h0M1013.3 2577.4h0M1015.0 2564.3h0M1016.4 2549.9h0M1017.9 2502.6h0M1018.9 2509.6h0M1020.7 2540.3h0M1021.5 2558.5h0M1022.8 2550.5h0M1024.0 2480.9h0M1025.0 2591.7h0M1028.2 2602.0h0M1030.3 2512.1h0M1031.9 2591.2h0M1032.8 2575.6h0M1034.2 2615.2h0M1035.2 2549.9h0M1036.9 2601.4h0M1037.9 2516.8h0M1039.5 2567.6h0M1040.6 2592.7h0M1041.9 2570.0h0M1042.4 2592.4h0M1044.4 2621.9h0M1045.6 2542.0h0M1046.6 2534.7h0M1047.2 2545.5h0M1049.4 2580.7h0M1050.1 2450.0h0M1051.2 2525.5h0M1052.6 2603.0h0M1053.7 2564.3h0M1054.8 2573.1h0M1057.1 2555.9h0M1057.6 2485.6h0M1058.6 2597.5h0M1060.2 2611.5h0M1062.1 2618.0h0M1062.3 2495.8h0M1064.0 2583.7h0M1065.8 2587.1h0M1067.0 2559.0h0M1067.8 2619.4h0M1068.6 2615.0h0M1070.7 2589.3h0M1072.0 2502.8h0M1073.2 2581.2h0M1075.3 2542.0h0M1077.3 2484.3h0M1081.0 2497.2h0M1081.7 2482.7h0M1083.2 2559.0h0M1083.9 2599.7h0M1085.0 2619.6h0M1086.5 2571.5h0M1088.0 2587.1h0M1088.7 2419.5h0M1090.0 2471.7h0M1092.2 2534.6h0M1093.2 2591.8h0M1094.1 2441.4h0M1095.6 2594.2h0M1096.5 2401.1h0M1097.6 2530.1h0M1099.6 2478.1h0M1100.4 2560.6h0M1102.0 2637.5h0M1102.7 2438.4h0M1104.1 2630.4h0M1106.1 2454.2h0M1106.7 2558.6h0M1107.7 2583.0h0M1109.1 2525.5h0M1111.3 2416.4h0M1112.7 2558.6h0M1114.2 2628.8h0M1116.5 2462.8h0M1118.6 2645.1h0M1119.9 2469.6h0M1121.3 2498.9h0M1122.1 2419.7h0M1123.6 2572.4h0M1124.9 2500.6h0M1125.6 2616.4h0M1127.6 2414.7h0M1128.2 2487.6h0M1129.1 2504.6h0M1131.3 2396.0h0M1131.9 2439.7h0M1133.6 2548.4h0M1135.0 2543.2h0M1135.6 2606.4h0M1137.7 2618.5h0M1138.8 2615.5h0M1139.5 2528.5h0M1141.5 2617.3h0M1142.0 2437.9h0M1143.2 2618.6h0M1144.7 2552.8h0M1147.7 2477.7h0M1148.8 2503.5h0M1150.1 2642.8h0M1151.1 2539.2h0M1152.6 2372.8h0M1153.2 2545.2h0M1154.4 2593.2h0M1155.7 2565.1h0M1157.0 2522.0h0M1158.0 2630.5h0M1159.8 2516.1h0M1161.2 2486.5h0M1162.7 2572.2h0M1163.5 2489.1h0M1164.4 2521.6h0M1165.7 2572.2h0M1167.1 2415.5h0M1168.1 2545.4h0M1169.2 2578.3h0M1170.7 2599.8h0M1171.8 2496.8h0M1173.9 2622.4h0M1174.8 2546.8h0M1176.3 2508.6h0M1177.6 2465.7h0M1178.9 2491.7h0M1179.6 2482.5h0M1181.2 2570.5h0M1182.9 2403.6h0M1183.5 2522.6h0M1185.0 2444.0h0M1186.8 2507.9h0M1187.2 2507.4h0M1189.1 2538.1h0M1189.8 2639.3h0M1190.9 2490.2h0M1192.7 2476.2h0M1194.4 2537.7h0M1194.7 2484.6h0M1196.7 2542.7h0M1198.1 2571.9h0M1198.2 2529.8h0M1199.8 2630.5h0M1201.2 2636.0h0M1202.3 2589.8h0M1204.1 2498.2h0M1204.8 2523.1h0M1205.9 2543.2h0M1207.1 2632.8h0M1209.9 2416.9h0M1211.3 2465.0h0M1213.2 2490.9h0M1214.5 2594.5h0M1215.1 2630.7h0M1216.1 2474.8h0M1217.1 2486.8h0M1218.9 2427.0h0M1220.8 2389.0h0M1221.1 2553.2h0M1222.5 2476.1h0M1224.5 2548.4h0M1225.0 2510.4h0M1226.4 2516.0h0M1227.8 2603.5h0M1230.4 2549.3h0M1231.6 2479.5h0M1232.5 2495.0h0M1233.4 2550.6h0M1234.8 2389.9h0M1236.7 2610.3h0M1237.9 2499.9h0M1239.4 2605.1h0M1240.7 2604.8h0M1241.8 2644.7h0M1242.7 2639.4h0M1243.7 2525.8h0M1245.8 2444.3h0M1246.2 2646.9h0M1247.8 2565.1h0M1249.6 2530.5h0M1250.0 2578.8h0M1251.2 2592.1h0M1253.0 2578.8h0M1253.6 2412.7h0M1255.1 2397.3h0M1256.6 2573.6h0M1257.4 2402.3h0M1259.1 2559.1h0M1260.4 2481.8h0M1261.3 2439.7h0M1262.9 2517.2h0M1264.5 2485.8h0M1265.0 2522.8h0M1267.3 2633.7h0M1267.6 2591.1h0M1268.9 2576.3h0M1271.0 2524.9h0M1272.2 2509.3h0M1272.5 2567.3h0M1274.4 2528.2h0M1275.4 2470.7h0M1276.6 2473.1h0M1278.5 2426.5h0M1278.9 2400.5h0M1281.2 2481.9h0M1281.6 2481.6h0M1282.9 2475.6h0M1283.7 2410.3h0M1286.2 2421.9h0M1287.2 2448.0h0M1289.9 2425.1h0M1291.0 2457.4h0M1291.5 2611.0h0M1292.6 2484.1h0M1294.2 2563.0h0M1296.2 2406.9h0M1297.3 2466.9h0M1297.8 2406.0h0M1299.3 2448.8h0M1301.2 2450.0h0M1302.0 2566.7h0M1303.8 2453.9h0M1304.0 2540.8h0M1306.3 2509.2h0M1306.9 2464.2h0M1308.2 2433.4h0M1309.6 2402.8h0M1311.0 2494.0h0M1311.4 2504.6h0M1312.9 2409.8h0M1314.7 2418.0h0M1316.0 2472.8h0M1317.0 2465.2h0M1317.9 2301.4h0M1319.3 2416.5h0M1321.4 2413.5h0M1321.5 2445.2h0M1323.0 2515.5h0M1324.8 2456.8h0M1326.1 2408.0h0M1326.8 2451.8h0M1327.8 2433.7h0M1330.0 2467.4h0M1331.4 2571.9h0M1332.1 2527.2h0M1333.5 2394.5h0M1335.2 2466.6h0M1335.4 2449.3h0M1337.6 2551.1h0M1338.0 2503.6h0M1340.1 2393.4h0M1340.5 2527.0h0M1342.4 2473.7h0M1343.8 2516.5h0M1346.1 2389.8h0M1347.3 2469.1h0M1348.0 2515.0h0M1350.0 2486.8h0M1351.1 2524.5h0M1352.0 2478.9h0M1353.4 2387.4h0M1354.6 2487.9h0M1355.7 2551.1h0M1357.6 2428.8h0M1358.4 2468.3h0M1359.4 2401.4h0M1361.2 2421.5h0M1362.3 2475.1h0M1363.1 2477.9h0M1364.3 2439.4h0M1365.9 2444.2h0M1367.6 2504.3h0M1369.1 2473.4h0M1369.5 2517.0h0M1371.6 2398.4h0M1373.0 2576.7h0M1373.1 2443.2h0M1375.2 2594.4h0M1375.9 2443.5h0M1377.2 2430.6h0M1378.6 2390.6h0M1380.2 2477.8h0M1381.3 2564.2h0M1382.8 2524.0h0M1383.1 2540.7h0M1385.0 2475.8h0M1385.8 2488.8h0M1387.9 2527.6h0M1389.4 2453.5h0M1389.6 2401.9h0M1390.8 2514.9h0M1392.0 2519.0h0M1393.9 2517.7h0M1396.2 2609.8h0M1398.0 2537.2h0M1398.9 2557.1h0M1400.7 2643.3h0M1401.9 2603.7h0M1402.5 2488.5h0M1403.3 2573.6h0M1405.3 2624.2h0M1407.0 2481.1h0M1408.2 2416.0h0M1409.4 2446.3h0M1409.7 2438.5h0M1411.1 2547.0h0M1412.1 2491.3h0M1413.9 2471.0h0M1414.8 2575.3h0M1416.9 2465.1h0M1417.6 2500.3h0M1419.3 2520.1h0M1420.4 2396.6h0M1421.2 2600.4h0M1422.5 2492.8h0M1423.6 2390.3h0M1425.4 2551.2h0M1426.9 2504.0h0M1427.8 2528.6h0M1428.7 2648.0h0M1429.8 2440.0h0M1431.7 2536.3h0M1432.6 2462.0h0M1434.0 2540.6h0M1435.3 2467.8h0M1437.1 2500.1h0M1438.0 2506.4h0M1439.7 2447.4h0M1439.7 2407.5h0M1442.1 2527.1h0M1442.3 2524.7h0M1444.0 2448.3h0M1445.5 2554.7h0M1446.5 2599.8h0M1448.2 2597.4h0M1449.7 2533.6h0M1450.5 2512.8h0M1451.9 2457.8h0M1453.0 2584.7h0M1453.7 2497.9h0M1455.1 2449.6h0M1456.2 2554.7h0M1458.2 2469.8h0M1459.2 2608.2h0M1460.6 2337.1h0M1461.4 2423.9h0M1462.7 2423.9h0M1464.7 2477.9h0M1465.4 2640.5h0M1467.2 2465.8h0M1468.4 2478.5h0M1468.7 2490.0h0M1470.8 2447.1h0M1471.7 2464.3h0M1472.6 2607.8h0M1474.7 2570.3h0M1475.3 2500.5h0M1477.0 2476.8h0M1477.5 2613.6h0M1478.9 2491.3h0M1481.0 2440.8h0M1482.0 2523.8h0M1483.0 2630.7h0M1483.8 2554.1h0M1485.7 2616.3h0M1486.7 2538.2h0M1487.9 2482.6h0M1489.9 2472.1h0M1491.1 2589.3h0M1491.6 2525.3h0M1493.4 2536.3h0M1494.7 2636.8h0M1495.1 2637.2h0M1496.5 2588.6h0M1498.7 2429.4h0M1499.4 2565.2h0M1500.8 2499.8h0M1501.6 2574.7h0M1503.8 2517.3h0M1504.0 2374.0h0M1505.5 2487.0h0M1507.0 2431.2h0M1508.2 2620.9h0M1509.4 2516.3h0M1510.7 2388.8h0M1512.1 2528.6h0M1512.8 2357.8h0M1514.7 2497.1h0M1516.0 2466.1h0M1517.1 2517.9h0M1517.9 2489.3h0M1519.0 2536.1h0M1521.3 2445.3h0M1522.1 2601.4h0M1523.8 2597.2h0M1525.2 2482.8h0M1526.4 2589.3h0M1527.0 2644.8h0M1528.4 2439.9h0M1530.1 2535.9h0M1531.4 2595.9h0M1532.7 2529.7h0M1534.1 2615.7h0M1534.6 2597.2h0M1535.5 2592.7h0M1537.3 2587.4h0M1537.9 2578.1h0M1539.8 2609.9h0M1541.3 2559.2h0M1542.4 2315.9h0M1544.1 2581.3h0M1544.8 2528.7h0M1546.3 2571.8h0M1547.4 2623.1h0M1549.0 2413.2h0M1549.4 2466.3h0M1551.3 2587.3h0M1552.3 2584.0h0M1554.2 2613.2h0M1554.6 2457.2h0M1555.6 2649.0h0M1557.6 2513.8h0M1558.9 2374.3h0M1559.7 2551.2h0M1561.5 2591.4h0M1562.8 2607.0h0M1563.8 2605.3h0M1565.0 2493.7h0M1566.7 2519.4h0M1568.1 2561.1h0M1569.7 2647.7h0M1571.3 2599.7h0M1571.8 2508.6h0M1573.4 2572.9h0M1574.8 2565.9h0M1576.5 2575.1h0M1578.8 2649.2h0M1580.6 2612.3h0M1581.1 2546.5h0M1581.9 2463.2h0M1583.9 2599.6h0M1585.5 2464.0h0M1585.8 2573.0h0M1587.4 2334.2h0M1589.1 2370.1h0M1590.1 2591.7h0M1591.3 2462.2h0M1593.4 2542.3h0M1594.6 2557.9h0M1596.6 2435.9h0M1597.0 2435.9h0M1598.9 2369.6h0M1600.3 2484.2h0M1601.3 2529.7h0M1602.4 2364.8h0M1604.1 2361.6h0M1604.8 2451.2h0M1606.5 2581.6h0M1607.6 2388.1h0M1609.2 2396.2h0M1609.8 2425.4h0M1611.2 2400.7h0M1612.6 2611.4h0M1614.3 2505.5h0M1615.7 2533.2h0M1616.8 2546.3h0M1617.9 2311.3h0M1619.0 2430.3h0M1620.1 2499.3h0M1621.7 2430.7h0M1622.4 2630.6h0M1624.3 2461.2h0M1625.2 2587.3h0M1626.9 2363.9h0M1627.2 2430.3h0M1628.7 2621.3h0M1630.3 2442.2h0M1631.7 2537.3h0M1632.8 2531.3h0M1634.2 2531.1h0M1634.9 2558.1h0M1638.2 2401.6h0M1638.6 2479.5h0M1640.0 2383.1h0M1641.6 2459.3h0M1642.9 2498.6h0M1644.6 2499.9h0M1645.5 2584.8h0M1646.9 2399.6h0M1647.4 2436.3h0M1649.8 2428.6h0M1650.7 2455.9h0M1651.6 2410.2h0M1652.9 2479.2h0M1653.8 2545.1h0M1656.1 2444.9h0M1657.2 2396.4h0M1658.0 2421.3h0M1659.4 2500.1h0M1660.4 2392.1h0M1662.1 2445.0h0M1663.3 2407.8h0M1664.5 2463.4h0M1665.3 2454.9h0M1666.2 2373.2h0M1668.3 2466.5h0M1668.8 2489.0h0M1670.5 2393.0h0M1671.3 2489.9h0M1673.5 2553.0h0M1673.8 2468.2h0M1675.0 2421.8h0M1677.3 2443.1h0M1678.6 2548.8h0M1680.0 2481.2h0M1681.1 2502.3h0M1682.0 2543.7h0M1683.6 2400.5h0M1684.8 2462.5h0M1685.7 2444.5h0M1687.2 2488.9h0M1688.6 2526.7h0M1689.8 2394.7h0M1690.1 2556.8h0M1691.5 2351.9h0M1693.7 2552.1h0M1694.2 2471.8h0M1696.3 2528.6h0M1697.4 2393.0h0M1697.8 2439.4h0M1699.2 2391.1h0M1701.1 2500.2h0M1702.5 2435.0h0M1703.1 2479.3h0M1704.0 2340.7h0M1706.0 2517.2h0M1706.9 2531.6h0M1708.0 2412.1h0M1709.1 2395.6h0M1711.0 2536.8h0M1712.5 2452.6h0M1713.7 2448.0h0M1714.2 2348.0h0M1716.4 2456.9h0M1717.3 2396.4h0M1717.8 2561.7h0M1720.0 2393.0h0M1720.6 2582.4h0M1721.6 2395.8h0M1723.7 2498.8h0M1725.1 2525.8h0M1727.8 2375.4h0M1728.3 2480.2h0M1730.1 2447.7h0M1731.1 2609.9h0M1732.8 2337.0h0M1733.2 2493.6h0M1734.2 2445.7h0M1736.4 2325.4h0M1737.2 2539.8h0M1738.2 2446.3h0M1739.9 2385.4h0M1740.6 2478.9h0M1742.6 2410.1h0M1744.0 2429.8h0M1745.0 2521.0h0M1745.6 2469.7h0M1747.8 2507.0h0M1749.1 2516.6h0M1749.7 2597.2h0M1751.6 2327.7h0M1752.6 2396.5h0M1753.4 2540.6h0M1754.3 2427.8h0M1756.5 2532.5h0M1757.6 2371.4h0M1758.2 2449.9h0M1759.7 2365.8h0M1760.9 2452.1h0M1762.5 2394.8h0M1763.4 2433.2h0M1765.3 2451.1h0M1765.8 2447.3h0M1767.7 2524.3h0M1769.1 2392.7h0M1770.8 2514.8h0M1771.9 2570.3h0M1774.3 2425.6h0M1775.1 2439.5h0M1776.4 2423.5h0M1777.3 2504.1h0M1779.2 2590.4h0M1780.6 2460.2h0M1781.7 2430.9h0M1783.0 2567.0h0M1783.7 2492.8h0M1787.3 2610.5h0M1788.3 2563.4h0M1789.7 2407.3h0M1791.3 2624.0h0M1792.1 2525.2h0M1793.9 2493.9h0M1795.2 2322.7h0M1796.6 2552.4h0M1797.7 2597.1h0M1799.2 2619.6h0M1799.9 2364.5h0M1801.1 2510.8h0M1804.2 2460.6h0M1805.0 2595.0h0M1805.9 2595.8h0M1807.9 2394.4h0M1809.0 2337.4h0M1810.6 2580.4h0M1811.1 2495.4h0M1814.4 2411.0h0M1814.9 2588.9h0M1816.7 2456.5h0M1817.6 2428.8h0M1818.7 2587.9h0M1820.0 2431.8h0M1821.8 2529.3h0M1824.6 2342.2h0M1825.6 2413.4h0M1826.7 2622.6h0M1828.0 2369.1h0M1828.7 2495.4h0M1829.9 2338.3h0M1831.9 2451.9h0M1833.1 2627.3h0M1835.0 2385.1h0M1836.3 2453.1h0M1837.6 2488.8h0M1839.7 2555.9h0M1840.2 2629.2h0M1841.6 2533.6h0M1843.4 2607.1h0M1844.1 2607.5h0M1846.1 2464.0h0M1846.7 2489.1h0M1847.5 2549.7h0M1849.5 2511.4h0M1850.4 2537.2h0M1851.3 2497.6h0M1853.0 2510.4h0M1853.7 2306.6h0M1855.2 2547.6h0M1856.5 2553.0h0M1858.7 2566.9h0M1861.0 2533.1h0M1862.4 2623.2h0M1862.6 2508.0h0M1863.9 2558.2h0M1865.9 2529.1h0M1867.4 2632.8h0M1867.7 2483.0h0M1869.7 2604.1h0M1870.6 2441.2h0M1872.3 2512.8h0M1872.6 2543.9h0M1874.9 2551.4h0M1875.9 2512.2h0M1877.9 2630.8h0M1879.8 2641.5h0M1881.2 2489.6h0M1881.8 2564.2h0M1883.4 2540.9h0M1884.8 2524.6h0M1886.0 2483.5h0M1886.5 2545.7h0M1888.6 2514.1h0M1889.4 2527.6h0M1891.0 2545.5h0M1891.8 2480.2h0M1892.9 2516.1h0M1894.0 2498.0h0M1895.9 2608.3h0M1897.3 2466.3h0M1898.1 2515.6h0M1899.6 2525.7h0M1900.5 2607.4h0M1902.2 2563.7h0M1903.8 2559.9h0M1904.8 2570.8h0M1906.5 2455.5h0M1907.0 2483.5h0M1908.3 2502.3h0M1910.2 2551.3h0M1910.4 2530.8h0M1912.4 2553.1h0M1913.4 2530.6h0M1914.7 2545.6h0M1915.9 2544.7h0M1916.8 2626.1h0M1918.6 2439.6h0M1919.4 2507.8h0M1921.4 2443.7h0M1922.3 2496.1h0M1923.8 2519.9h0M1924.5 2569.3h0M1926.1 2392.4h0M1926.7 2562.7h0M1928.9 2536.5h0M1929.7 2586.6h0M1931.3 2556.7h0M1931.7 2491.9h0M1934.0 2481.0h0M1935.0 2455.2h0M1936.0 2498.5h0M1937.8 2498.3h0M1938.9 2601.1h0M1939.7 2488.3h0M1941.2 2457.5h0M1942.9 2531.4h0M1943.5 2562.9h0M1944.7 2573.5h0M1945.9 2502.6h0M1947.6 2478.5h0M1949.1 2580.0h0M1949.3 2462.4h0M1951.4 2394.0h0M1952.2 2590.3h0M1953.4 2501.4h0M1955.4 2590.8h0M1955.6 2458.4h0M1957.9 2507.9h0M1958.2 2572.0h0M1959.8 2498.0h0M1961.7 2492.8h0M1963.7 2383.0h0M1965.3 2498.6h0M1965.8 2366.0h0M1968.6 2523.8h0M1969.8 2355.4h0M1971.9 2599.2h0M1972.2 2474.7h0M1973.8 2401.6h0M1974.5 2493.0h0M1975.7 2388.1h0M1977.2 2324.8h0M1979.2 2499.0h0M1980.7 2497.1h0M1981.8 2542.3h0M1982.2 2588.4h0M1983.3 2372.5h0M1984.9 2396.6h0M1985.9 2530.9h0M1987.7 2406.0h0M1989.3 2544.0h0M1990.5 2514.1h0M1991.3 2499.5h0M1993.2 2445.9h0M1993.4 2460.6h0M1996.7 2572.1h0M1997.8 2568.0h0M1998.9 2563.6h0M2000.4 2470.2h0M2001.3 2370.2h0M2002.5 2608.3h0M2004.1 2432.0h0M2005.7 2556.7h0M2006.8 2363.2h0M2007.3 2530.9h0M2008.7 2364.5h0M2010.5 2450.3h0M2011.1 2501.8h0M2012.9 2499.6h0M2016.7 2548.0h0M2018.0 2470.7h0M2019.2 2453.5h0M2020.6 2480.4h0M2021.7 2428.3h0M2022.8 2370.4h0M2024.1 2558.2h0M2025.4 2303.3h0M2028.2 2363.5h0M2030.9 2465.0h0M2031.8 2434.0h0M2032.4 2384.3h0M2033.6 2334.8h0M2035.2 2338.2h0M2037.3 2444.3h0M2037.7 2315.4h0M2040.2 2436.5h0M2042.3 2379.0h0M2043.3 2413.7h0M2043.9 2356.4h0M2045.2 2415.4h0M2047.3 2393.4h0M2047.7 2477.1h0M2051.0 2523.2h0M2051.9 2509.0h0M2052.7 2330.9h0M2055.0 2353.2h0M2057.4 2385.1h0M2058.2 2330.1h0M2059.1 2453.6h0M2061.2 2309.0h0M2062.4 2414.4h0M2063.6 2435.6h0M2064.0 2329.6h0M2065.0 2392.8h0M2066.9 2368.4h0M2068.0 2391.6h0M2069.7 2379.7h0M2070.2 2412.2h0M2071.8 2333.3h0M2073.7 2356.6h0M2075.0 2399.5h0M2075.6 2332.1h0M2076.5 2437.5h0M2078.2 2467.8h0M2079.6 2376.2h0M2080.7 2452.9h0M2081.9 2311.5h0M2083.0 2392.6h0M2084.8 2460.7h0M2086.0 2355.6h0M2088.2 2419.7h0M2089.3 2367.4h0M2091.1 2457.8h0M2092.3 2366.4h0M2093.4 2409.5h0M2094.8 2334.2h0M2096.2 2463.6h0M2097.5 2347.0h0M2097.8 2462.1h0M2099.4 2412.7h0M2100.6 2300.7h0M2101.9 2352.7h0M2103.0 2343.5h0M2104.4 2477.5h0M2106.5 2308.1h0M2107.6 2361.9h0M2107.8 2310.7h0M2109.5 2389.1h0M2111.3 2361.9h0M2111.6 2375.0h0M2112.8 2302.6h0M2114.8 2413.4h0M2116.4 2355.3h0M2116.6 2319.1h0M2118.9 2338.2h0M2119.3 2434.3h0M2120.4 2342.2h0M2123.5 2358.3h0M2124.9 2451.0h0M2126.0 2318.0h0M2126.9 2421.1h0M2128.5 2386.5h0M2130.0 2368.8h0M2131.0 2379.9h0M2132.7 2347.2h0M2134.1 2468.9h0M2137.9 2457.4h0M2139.1 2319.6h0M2139.3 2307.5h0M2141.2 2517.6h0M2142.6 2439.6h0M2143.3 2396.1h0M2145.4 2440.8h0M2145.6 2439.6h0M2147.2 2489.9h0M2148.1 2341.4h0M2150.3 2343.0h0M2151.0 2353.3h0M2152.6 2447.6h0M2154.0 2370.5h0M2155.5 2328.4h0M2155.7 2319.3h0M2157.5 2347.1h0M2158.9 2354.9h0M2160.6 2352.3h0M2161.5 2345.4h0M2162.5 2348.3h0M2163.4 2406.6h0" stroke="#ff0000"/>
<path d="M270.7 2954.3h0M342.5 2919.7h0M468.3 2920.4h0M508.2 2919.7h0M523.5 2937.7h0M553.4 2945.0h0M583.4 2947.0h0M645.2 2951.6h0M492.2 2960.3h0M518.8 2953.6h0M512.2 2974.9h0M516.8 2979.6h0M514.8 2996.2h0M475.6 2990.2h0M450.3 2989.5h0M427.0 3002.8h0M442.3 3009.5h0M437.0 3019.4h0M429.0 3030.8h0M428.3 3039.4h0M462.3 3026.1h0M463.6 3031.4h0M498.9 3014.8h0M496.9 3041.4h0M470.3 3049.4h0M450.3 3071.3h0M480.2 3095.2h0M478.9 3123.8h0M542.8 3111.2h0M493.5 3192.3h0M554.8 3007.5h0M592.7 3042.1h0M628.6 3137.8h0M628.6 3150.4h0M325.9 3018.1h0M383.1 3012.8h0M725.1 2928.4h0M746.4 2958.3h0M802.9 2935.7h0M836.2 2938.3h0M794.9 2983.5h0M800.3 3017.5h0M860.1 3080.0h0M861.5 3116.5h0M849.5 3131.2h0M850.8 3213.6h0M955.9 2954.3h0M951.3 2968.2h0M949.3 2979.6h0M952.6 2984.2h0M965.9 3114.5h0M1064.4 2933.0h0M1079.0 2936.3h0M1092.3 2929.7h0M1095.7 2933.0h0M1119.0 2928.4h0M1069.1 2951.0h0M1075.7 2954.3h0M1085.7 2948.3h0M1053.8 2956.3h0M1091.0 2962.9h0M1114.3 2947.0h0M1069.1 2980.9h0M1067.1 2986.2h0M1083.7 2979.6h0M1094.3 2984.9h0M1062.4 3002.8h0M1072.4 3004.8h0M1115.6 3047.4h0M1227.4 2921.0h0M1204.1 2969.6h0M1220.1 2989.5h0M1223.4 2991.5h0M1215.4 3017.5h0M1316.6 2933.0h0M1359.9 2923.0h0M1403.2 2921.7h0M1413.2 2929.7h0M1427.8 2925.0h0M1451.2 2921.7h0M1469.1 2931.0h0M1493.1 2933.0h0M1496.4 2926.4h0M1449.8 2938.4h0M1446.5 2951.7h0M1278.7 2941.0h0M1276.7 2948.3h0M1293.3 2946.3h0M1306.6 2954.3h0M1315.3 2960.3h0M1344.6 2968.3h0M1374.6 2967.0h0M1431.2 2965.0h0M1463.1 2967.6h0M1474.5 2969.6h0M1485.1 2975.0h0M1499.8 2980.9h0M1444.5 2981.6h0M1411.2 2985.6h0M1313.3 2986.3h0M1292.0 2992.9h0M1367.9 2999.6h0M1448.5 3002.9h0M1459.8 3008.2h0M1467.8 3001.6h0M1479.8 2998.3h0M1479.8 3010.9h0M1521.1 2998.3h0M1516.4 3012.9h0M1517.8 3019.6h0M1531.7 2945.0h0M1548.4 2957.7h0M1605.0 2931.0h0M1611.0 2921.7h0M1564.4 2984.9h0M1566.4 2994.9h0M1590.3 2990.9h0M1604.3 2983.6h0M1644.3 2984.9h0M1583.0 3004.9h0M1577.7 3010.2h0M1686.3 2963.0h0M1710.9 2954.3h0M1301.3 3024.2h0M1356.6 3018.9h0M1376.6 3021.5h0M1401.2 3025.5h0M1396.5 3036.2h0M1379.9 3037.5h0M1366.6 3041.5h0M1387.2 3039.5h0M1288.6 3051.5h0M1316.6 3051.5h0M1394.5 3060.2h0M1438.5 3031.5h0M1456.5 3032.2h0M1472.5 3030.9h0M1485.1 3046.8h0M1481.8 3052.8h0M1501.1 3044.8h0M1505.1 3056.2h0M1568.4 3044.8h0M1579.7 3052.8h0M1588.3 3046.2h0M1594.3 3038.2h0M1609.7 3033.5h0M1601.0 3054.8h0M1636.3 3060.8h0M1656.3 3062.8h0M1669.6 3052.8h0M1684.3 3068.1h0M1551.1 3068.1h0M1549.7 3084.1h0M1353.3 3081.5h0M1369.9 3096.1h0M1400.5 3097.4h0M1290.0 3087.4h0M1286.7 3097.4h0M1301.3 3110.7h0M1275.3 3122.7h0M1455.1 3074.1h0M1483.1 3091.4h0M1441.8 3109.4h0M1458.5 3108.1h0M1488.4 3113.4h0M1518.4 3124.0h0M1387.9 3124.0h0M1439.8 3139.4h0M1454.5 3134.7h0M1467.8 3132.7h0M1473.1 3139.4h0M1459.8 3148.0h0M1503.1 3150.7h0M1504.4 3159.3h0M1563.0 3141.4h0M1583.0 3109.4h0M1607.7 3107.4h0M1598.3 3134.7h0M1646.3 3092.8h0M1385.9 3158.0h0M1429.2 3185.9h0M1378.6 3204.6h0M1519.8 3199.3h0M1534.4 3215.9h0M1488.4 3256.5h0M1498.4 3258.5h0M1534.4 3252.5h0M1591.7 3240.5h0M1592.3 3273.8h0M1603.0 3307.7h0M1581.0 3323.7h0M1551.1 3395.6h0M1567.0 3418.2h0M1782.8 2933.0h0M1804.8 2939.0h0M1841.4 2928.4h0M1759.5 2985.6h0M1769.5 2984.3h0M1774.2 2981.6h0M1794.1 3004.2h0M1831.4 2965.0h0M1854.1 2965.0h0M1854.7 2973.0h0M1866.1 2975.0h0M1879.4 2979.6h0M1842.8 3015.6h0M1867.4 3016.2h0M1872.7 3021.5h0M1882.7 3020.2h0M1834.8 3044.2h0M1824.1 3052.8h0M1868.1 3067.5h0M1859.4 3094.1h0M1906.0 3161.3h0M1844.1 3206.6h0M1854.7 3236.5h0M1987.3 2927.0h0M1995.9 2941.7h0M2015.9 2941.0h0M2020.6 2921.0h0M2047.9 2952.3h0M2037.9 2976.3h0M2049.2 2990.9h0M2035.9 3004.2h0M1997.3 3021.5h0M2004.6 3019.6h0M2010.6 3067.5h0M2064.5 3042.2h0M2097.8 3043.5h0M2080.5 3104.7h0M2062.5 3118.7h0M2114.5 3092.1h0M2132.5 3149.3h0M2146.5 3063.5h0M2121.1 2941.0h0M2135.8 2930.4h0M2155.8 2923.7h0M2134.5 2966.3h0M2114.5 3225.9h0M2081.2 3247.8h0M282.3 2500.6h0M540.1 2560.4h0M621.6 2510.6h0M641.6 2505.6h0M600.0 2550.5h0M624.9 2538.8h0M623.3 2535.5h0M639.9 2537.2h0M658.2 2480.7h0M669.9 2508.9h0M676.5 2513.9h0M678.2 2522.2h0M696.5 2517.2h0M658.2 2528.9h0M659.9 2543.8h0M651.6 2550.5h0M669.9 2553.8h0M699.8 2558.8h0M736.4 2487.3h0M714.8 2525.5h0M713.1 2540.5h0M719.8 2543.8h0M711.4 2553.8h0M716.4 2555.5h0M280.6 2590.4h0M303.3 2598.7h0M302.3 2620.3h0M280.0 2630.3h0M290.6 2635.2h0M297.3 2631.9h0M347.8 2568.8h0M371.1 2561.4h0M348.8 2601.3h0M370.5 2636.9h0M328.9 2635.2h0M338.9 2633.6h0M472.9 2631.9h0M473.6 2638.6h0M465.3 2650.2h0M506.2 2605.3h0M526.8 2638.6h0M521.8 2648.5h0M551.8 2621.9h0M556.7 2592.0h0M570.1 2601.3h0M588.4 2601.3h0M610.0 2605.3h0M606.6 2615.3h0M610.0 2625.3h0M616.6 2618.6h0M620.0 2641.9h0M606.6 2638.6h0M588.4 2628.6h0M633.3 2598.7h0M643.2 2607.0h0M633.3 2615.3h0M636.6 2625.3h0M648.2 2626.9h0M624.9 2572.1h0M639.9 2572.1h0M648.2 2577.1h0M661.5 2582.1h0M663.2 2593.7h0M679.8 2603.7h0M668.2 2603.7h0M666.5 2620.3h0M673.2 2633.6h0M691.5 2626.9h0M696.5 2635.2h0M678.2 2592.0h0M696.5 2585.4h0M699.8 2568.8h0M728.1 2590.4h0M733.1 2590.4h0M719.8 2600.3h0M741.4 2608.6h0M743.0 2625.3h0M754.7 2595.3h0M759.7 2578.7h0M758.0 2618.6h0M733.1 2636.9h0M736.4 2635.2h0M708.1 2645.2h0M723.1 2641.9h0M274.0 2660.2h0M293.9 2665.2h0M275.0 2688.4h0M293.9 2691.8h0M289.0 2708.4h0M298.9 2711.7h0M284.0 2730.0h0M305.6 2666.8h0M310.6 2655.2h0M317.2 2651.9h0M313.9 2675.1h0M315.6 2693.4h0M307.2 2728.3h0M317.2 2723.3h0M265.7 2725.0h0M330.5 2656.9h0M337.2 2655.2h0M335.5 2680.1h0M350.5 2705.1h0M362.1 2698.4h0M372.1 2685.1h0M382.1 2680.1h0M387.1 2695.1h0M378.8 2708.4h0M387.1 2711.7h0M352.2 2728.3h0M372.1 2731.7h0M400.4 2716.7h0M415.4 2718.4h0M432.0 2733.3h0M442.0 2655.2h0M452.0 2663.5h0M481.9 2665.2h0M465.3 2696.7h0M482.9 2716.7h0M490.2 2650.2h0M500.2 2647.9h0M508.5 2705.1h0M508.5 2718.4h0M526.8 2723.3h0M522.8 2695.1h0M535.1 2712.4h0M541.8 2675.1h0M546.8 2651.9h0M559.4 2699.4h0M566.7 2681.8h0M581.7 2685.1h0M583.4 2705.1h0M598.3 2705.1h0M601.7 2675.1h0M603.3 2660.2h0M615.0 2713.4h0M620.0 2656.9h0M634.9 2668.5h0M644.9 2717.7h0M653.2 2665.2h0M686.5 2691.8h0M688.2 2665.2h0M704.8 2656.9h0M674.8 2721.7h0M721.4 2656.9h0M731.4 2655.2h0M723.1 2688.4h0M729.7 2706.7h0M753.0 2675.1h0M749.7 2688.4h0M743.0 2718.4h0M763.0 2655.2h0M763.0 2728.3h0M293.9 2741.6h0M279.0 2754.9h0M310.6 2746.6h0M267.3 2768.2h0M279.0 2779.9h0M285.6 2778.2h0M295.6 2788.2h0M308.9 2798.1h0M272.3 2816.4h0M284.0 2816.4h0M287.3 2831.4h0M335.5 2746.6h0M352.2 2741.6h0M362.1 2748.3h0M332.2 2761.6h0M343.8 2759.9h0M358.8 2769.9h0M375.4 2741.6h0M387.1 2746.6h0M393.7 2748.3h0M357.1 2791.5h0M373.8 2788.2h0M382.1 2796.5h0M360.5 2804.8h0M363.8 2814.8h0M333.9 2796.5h0M345.5 2816.4h0M367.1 2833.1h0M402.1 2758.3h0M413.7 2763.2h0M392.1 2779.9h0M408.7 2779.9h0M423.7 2784.9h0M432.0 2776.5h0M427.0 2798.1h0M420.4 2811.4h0M397.1 2816.4h0M405.4 2821.4h0M408.7 2796.5h0M447.0 2796.5h0M453.6 2773.2h0M466.9 2768.2h0M478.6 2763.2h0M488.6 2761.6h0M456.9 2809.8h0M468.6 2818.1h0M485.2 2799.8h0M491.9 2788.2h0M500.2 2774.9h0M495.2 2818.1h0M510.2 2796.5h0M460.3 2824.7h0M520.2 2776.5h0M531.8 2783.2h0M546.8 2776.5h0M550.1 2781.5h0M536.8 2803.1h0M561.7 2806.5h0M533.5 2763.2h0M546.8 2741.6h0M563.4 2761.6h0M570.1 2751.6h0M596.7 2751.6h0M595.0 2764.9h0M595.0 2803.1h0M654.9 2784.9h0M664.9 2735.0h0M693.1 2758.3h0M683.2 2769.9h0M706.4 2788.2h0M674.8 2796.5h0M681.5 2789.8h0M663.2 2818.1h0M728.1 2750.9h0M743.0 2754.9h0M706.4 2778.2h0M759.7 2783.2h0M269.0 2859.7h0M308.9 2863.0h0M275.6 2907.9h0M269.0 2916.2h0M323.9 2828.1h0M327.2 2843.0h0M343.8 2881.3h0M340.5 2901.2h0M342.2 2917.8h0M367.1 2833.1h0M325.5 2884.6h0M397.1 2841.4h0M417.0 2841.4h0M410.4 2861.3h0M403.7 2891.2h0M417.0 2887.9h0M420.4 2894.6h0M435.3 2877.9h0M443.6 2869.6h0M412.0 2911.2h0M438.7 2844.7h0M475.2 2853.0h0M486.9 2871.3h0M456.9 2879.6h0M445.3 2881.3h0M460.3 2873.0h0M478.6 2882.9h0M496.9 2838.0h0M455.3 2916.2h0M468.6 2919.5h0M488.6 2904.5h0M496.9 2909.5h0M508.5 2907.9h0M523.5 2863.0h0M531.8 2859.7h0M563.4 2849.7h0M565.1 2879.6h0M575.0 2863.0h0M585.0 2869.6h0M583.4 2897.9h0M565.1 2914.5h0M591.7 2841.4h0M578.4 2828.1h0M516.8 2901.2h0M530.1 2904.5h0M536.8 2907.9h0M629.9 2891.2h0M646.6 2894.6h0M656.5 2869.6h0M626.6 2826.4h0M684.8 2836.4h0M703.1 2856.3h0M724.7 2893.9h0M748.0 2849.7h0M764.7 2889.6h0M748.0 2911.2h0M778.6 2548.1h0M1183.5 2532.2h0M778.6 2574.7h0M798.6 2579.4h0M789.6 2611.3h0M773.7 2621.9h0M770.3 2631.9h0M770.3 2638.6h0M792.0 2645.2h0M841.9 2641.9h0M865.1 2648.5h0M883.4 2625.3h0M892.7 2636.9h0M903.4 2648.5h0M927.3 2630.3h0M981.6 2574.7h0M986.6 2605.3h0M969.9 2625.3h0M979.9 2628.6h0M984.9 2635.2h0M993.2 2631.9h0M999.9 2603.7h0M1014.8 2593.7h0M1023.2 2600.3h0M1033.1 2607.0h0M1006.5 2618.6h0M1019.8 2621.9h0M1029.8 2628.6h0M1023.2 2621.9h0M1041.5 2590.4h0M1038.1 2626.9h0M1113.0 2612.0h0M1123.0 2610.3h0M1106.3 2640.2h0M1149.6 2631.9h0M1212.8 2617.0h0M1212.8 2631.9h0M1199.5 2638.6h0M1209.4 2646.9h0M1256.0 2598.7h0M1239.4 2640.2h0M1247.7 2643.6h0M1229.4 2657.9h0M1221.1 2650.2h0M1264.3 2625.3h0M772.0 2658.5h0M787.0 2670.2h0M788.6 2681.8h0M785.3 2703.4h0M798.6 2703.4h0M808.6 2703.4h0M793.6 2721.7h0M801.9 2723.3h0M803.6 2741.6h0M813.6 2716.7h0M810.2 2655.2h0M815.2 2658.5h0M826.9 2681.8h0M831.9 2688.4h0M821.9 2711.7h0M828.5 2705.1h0M833.5 2715.0h0M845.2 2715.0h0M826.9 2733.3h0M840.2 2733.3h0M855.2 2671.8h0M848.5 2681.8h0M863.5 2681.8h0M856.8 2695.1h0M863.5 2705.1h0M873.5 2711.7h0M875.1 2663.5h0M885.1 2675.1h0M898.4 2675.1h0M881.8 2681.8h0M890.1 2690.1h0M885.1 2655.2h0M900.1 2648.5h0M880.1 2721.7h0M893.4 2728.3h0M901.7 2728.3h0M908.4 2688.4h0M913.4 2666.8h0M926.7 2675.1h0M943.3 2691.8h0M921.7 2735.0h0M911.7 2728.3h0M946.6 2655.2h0M959.9 2690.1h0M966.6 2698.4h0M974.9 2671.8h0M983.2 2668.5h0M958.3 2715.0h0M963.3 2723.3h0M976.6 2711.7h0M986.6 2713.4h0M976.6 2730.0h0M989.9 2728.3h0M999.9 2661.8h0M1008.2 2691.8h0M996.5 2638.6h0M1004.9 2655.2h0M1013.2 2668.5h0M999.9 2651.9h0M1024.8 2701.7h0M1038.1 2710.0h0M1043.1 2705.1h0M1043.1 2715.0h0M1049.8 2696.7h0M1029.8 2655.2h0M1033.1 2675.1h0M1033.1 2648.5h0M1023.2 2651.9h0M1026.5 2631.9h0M1104.7 2670.2h0M1124.6 2678.5h0M1126.3 2706.7h0M1136.3 2668.5h0M1136.3 2710.0h0M1142.9 2688.4h0M1151.2 2698.4h0M1156.2 2665.2h0M1109.6 2730.0h0M1159.5 2678.5h0M1172.9 2685.1h0M1182.8 2655.2h0M1182.8 2708.4h0M1189.5 2691.8h0M1199.5 2705.1h0M1177.8 2723.3h0M1152.9 2715.0h0M1161.2 2723.3h0M1229.4 2703.4h0M1239.4 2698.4h0M1246.0 2715.0h0M1256.0 2688.4h0M1262.7 2666.8h0M1219.4 2716.7h0M1266.0 2688.4h0M772.0 2776.5h0M777.0 2778.2h0M780.3 2806.5h0M796.9 2811.4h0M787.0 2828.1h0M767.0 2741.6h0M820.2 2787.5h0M838.5 2761.6h0M851.8 2774.9h0M848.5 2796.5h0M875.1 2771.6h0M841.9 2735.0h0M896.7 2774.9h0M903.4 2748.3h0M910.0 2761.6h0M918.4 2753.3h0M913.4 2781.5h0M923.4 2776.5h0M930.0 2794.8h0M928.3 2741.6h0M935.0 2743.3h0M926.7 2814.8h0M940.0 2814.8h0M951.6 2813.1h0M968.3 2745.0h0M974.9 2767.6h0M963.3 2811.4h0M978.2 2814.8h0M988.2 2828.1h0M961.6 2818.1h0M1019.8 2740.0h0M1046.4 2738.3h0M1058.1 2748.3h0M1059.7 2741.6h0M1036.5 2769.9h0M1066.4 2799.8h0M1058.1 2808.1h0M1088.0 2761.6h0M1098.0 2741.6h0M1108.0 2731.7h0M1111.3 2751.6h0M1109.6 2778.2h0M1118.0 2778.2h0M1123.0 2788.2h0M1127.9 2791.5h0M1132.9 2801.5h0M1104.7 2799.8h0M1134.6 2738.3h0M1141.3 2816.4h0M1139.6 2756.6h0M1159.5 2741.6h0M1169.5 2745.0h0M1176.2 2748.3h0M1159.5 2758.3h0M1166.2 2764.9h0M1149.6 2771.6h0M1156.2 2781.5h0M1167.9 2773.2h0M1176.2 2779.9h0M1189.5 2761.6h0M1162.9 2796.5h0M1186.2 2798.1h0M1197.8 2730.0h0M1197.8 2749.9h0M1232.7 2751.6h0M1246.0 2759.9h0M1254.4 2746.6h0M1259.3 2774.9h0M1266.0 2776.5h0M1242.7 2788.2h0M1252.7 2784.9h0M1239.4 2794.8h0M1216.1 2814.8h0M1226.1 2818.1h0M1232.7 2818.1h0M1252.7 2809.8h0M1264.3 2809.8h0M1206.1 2796.5h0M782.0 2856.3h0M820.2 2861.3h0M782.0 2876.3h0M777.0 2901.2h0M768.7 2889.6h0M836.9 2882.9h0M858.5 2846.4h0M866.8 2833.1h0M868.5 2836.4h0M866.8 2854.7h0M868.5 2858.0h0M925.0 2829.7h0M936.7 2838.0h0M911.7 2878.9h0M940.0 2891.2h0M940.0 2899.5h0M955.0 2899.5h0M961.6 2843.0h0M971.6 2911.8h0M1029.8 2833.1h0M1059.7 2864.6h0M1054.8 2874.6h0M1076.4 2881.3h0M1083.0 2889.6h0M1053.1 2906.2h0M1074.7 2912.8h0M1081.4 2844.7h0M1089.7 2844.7h0M1101.3 2833.1h0M1103.0 2864.6h0M1119.6 2868.0h0M1099.7 2911.2h0M1131.3 2834.7h0M1146.2 2831.4h0M1154.6 2829.7h0M1146.2 2877.9h0M1152.9 2886.3h0M1179.5 2887.9h0M1187.8 2839.7h0M1202.8 2871.3h0M1202.8 2889.6h0M1196.1 2904.5h0M1209.4 2871.3h0M1224.4 2882.9h0M1232.7 2911.2h0M1217.8 2841.4h0M1229.4 2836.4h0M1244.4 2841.4h0M1701.7 2554.9h0M1725.0 2542.3h0M1554.0 2607.2h0M1543.3 2643.9h0M1687.3 2583.9h0M1675.0 2642.2h0M1700.0 2651.6h0M1716.0 2592.9h0M1730.0 2570.6h0M1766.7 2588.9h0M1715.0 2615.6h0M1725.0 2620.6h0M1731.7 2627.2h0M1756.7 2635.6h0M1766.7 2632.2h0M1765.0 2650.6h0M1275.0 2665.5h0M1319.3 2655.6h0M1273.3 2691.5h0M1320.7 2708.9h0M1271.7 2717.2h0M1382.7 2677.2h0M1392.7 2710.5h0M1336.0 2731.5h0M1461.7 2733.8h0M1511.7 2714.8h0M1513.3 2732.2h0M1543.3 2657.2h0M1556.7 2658.9h0M1525.0 2673.9h0M1528.3 2678.9h0M1521.7 2687.2h0M1536.7 2688.9h0M1523.3 2695.5h0M1560.0 2682.2h0M1576.0 2681.5h0M1556.7 2697.2h0M1538.3 2706.5h0M1571.7 2705.5h0M1558.3 2713.8h0M1536.7 2728.2h0M1575.0 2732.2h0M1634.3 2731.5h0M1675.0 2668.9h0M1680.0 2675.5h0M1690.0 2672.2h0M1691.7 2700.5h0M1678.3 2715.5h0M1695.0 2720.5h0M1665.0 2725.5h0M1660.0 2723.8h0M1675.0 2723.8h0M1710.0 2733.8h0M1670.0 2728.8h0M1720.0 2673.9h0M1730.0 2674.9h0M1753.3 2679.5h0M1745.0 2696.2h0M1732.7 2702.2h0M1721.7 2713.8h0M1770.0 2685.5h0M1770.0 2715.5h0M1766.7 2740.5h0M1284.0 2747.2h0M1311.7 2738.8h0M1325.0 2747.2h0M1310.0 2753.8h0M1326.7 2757.2h0M1271.7 2775.5h0M1310.0 2781.5h0M1303.3 2794.8h0M1283.3 2806.1h0M1323.3 2788.8h0M1326.7 2793.8h0M1290.0 2818.8h0M1275.0 2823.8h0M1321.7 2822.1h0M1330.0 2818.8h0M1346.0 2751.5h0M1341.7 2781.5h0M1345.0 2802.1h0M1350.0 2803.8h0M1371.7 2767.1h0M1380.0 2772.1h0M1383.3 2737.2h0M1388.3 2750.5h0M1388.3 2797.1h0M1390.0 2808.8h0M1347.3 2823.8h0M1403.3 2737.2h0M1405.0 2795.5h0M1438.3 2746.2h0M1436.0 2762.2h0M1435.0 2780.5h0M1425.0 2794.8h0M1421.7 2812.8h0M1433.3 2810.5h0M1463.3 2790.5h0M1463.3 2809.8h0M1476.7 2807.8h0M1495.0 2782.1h0M1508.3 2780.5h0M1508.3 2754.8h0M1541.7 2753.2h0M1561.7 2750.5h0M1573.3 2753.8h0M1531.7 2774.8h0M1545.0 2787.1h0M1553.3 2788.8h0M1571.7 2780.5h0M1578.3 2790.5h0M1585.0 2742.2h0M1570.0 2818.1h0M1562.7 2831.4h0M1588.3 2794.8h0M1595.0 2768.8h0M1600.0 2785.5h0M1613.3 2788.8h0M1618.3 2797.1h0M1625.0 2798.8h0M1606.7 2807.1h0M1616.7 2808.8h0M1631.7 2815.5h0M1620.0 2818.8h0M1638.3 2794.8h0M1651.7 2798.8h0M1630.0 2770.5h0M1643.3 2773.8h0M1625.0 2772.1h0M1648.3 2742.2h0M1653.3 2740.5h0M1643.3 2758.8h0M1658.3 2813.8h0M1660.0 2742.2h0M1665.0 2753.8h0M1666.7 2758.8h0M1681.7 2747.2h0M1688.3 2758.8h0M1686.7 2770.5h0M1703.3 2762.2h0M1671.7 2780.5h0M1678.3 2803.8h0M1678.3 2810.5h0M1700.0 2822.1h0M1710.0 2778.8h0M1713.3 2788.8h0M1716.7 2765.5h0M1723.3 2765.5h0M1735.0 2753.8h0M1746.7 2753.8h0M1758.3 2743.8h0M1766.7 2752.2h0M1740.0 2780.5h0M1753.3 2782.1h0M1713.3 2795.5h0M1736.7 2812.1h0M1743.3 2818.8h0M1751.7 2808.8h0M1761.7 2802.1h0M1720.0 2818.8h0M1770.0 2827.1h0M1275.0 2832.1h0M1285.0 2840.4h0M1295.0 2840.4h0M1305.0 2842.1h0M1321.7 2838.8h0M1278.3 2862.1h0M1301.7 2868.7h0M1281.7 2882.1h0M1296.7 2902.1h0M1308.3 2903.7h0M1331.7 2905.4h0M1338.3 2835.4h0M1341.7 2845.4h0M1348.3 2823.8h0M1355.0 2855.4h0M1335.0 2860.4h0M1348.3 2873.7h0M1361.7 2870.4h0M1333.3 2880.4h0M1338.3 2893.7h0M1363.3 2888.7h0M1370.0 2885.4h0M1380.0 2878.7h0M1366.7 2837.1h0M1370.0 2845.4h0M1350.0 2907.1h0M1358.3 2912.1h0M1393.3 2877.1h0M1396.7 2892.1h0M1398.3 2850.4h0M1408.3 2848.8h0M1410.0 2863.8h0M1416.7 2862.1h0M1423.3 2857.1h0M1421.7 2838.8h0M1420.0 2882.1h0M1435.0 2880.4h0M1426.7 2885.4h0M1416.7 2908.7h0M1398.3 2918.7h0M1453.3 2872.1h0M1446.7 2908.7h0M1451.7 2918.7h0M1470.0 2870.4h0M1478.3 2885.4h0M1496.7 2873.7h0M1506.7 2844.8h0M1493.3 2898.7h0M1490.0 2908.7h0M1530.0 2848.8h0M1546.7 2863.8h0M1546.7 2877.1h0M1585.0 2908.7h0M1595.0 2840.4h0M1598.3 2848.8h0M1610.0 2845.4h0M1620.0 2835.4h0M1630.0 2832.1h0M1640.0 2837.1h0M1630.0 2855.4h0M1648.3 2852.1h0M1653.3 2857.1h0M1616.7 2875.4h0M1626.7 2885.4h0M1635.0 2905.4h0M1658.3 2905.4h0M1661.7 2910.4h0M1671.7 2882.1h0M1683.3 2917.1h0M1696.7 2917.1h0M1696.7 2843.8h0M1700.0 2855.4h0M1710.0 2855.4h0M1703.3 2865.4h0M1726.7 2840.4h0M1736.7 2842.1h0M1740.0 2852.1h0M1743.3 2857.1h0M1761.7 2863.8h0M1740.0 2888.7h0M1750.0 2887.1h0M1748.3 2898.7h0M1785.6 2502.3h0M1817.9 2494.0h0M1972.9 2541.5h0M1979.6 2560.4h0M1980.3 2563.8h0M2000.2 2551.5h0M2090.0 2541.5h0M1785.6 2593.7h0M1794.0 2598.7h0M1799.0 2605.3h0M1787.3 2621.9h0M1775.7 2630.3h0M1807.3 2631.9h0M1797.3 2646.9h0M1810.6 2648.5h0M1827.2 2614.6h0M1828.9 2630.3h0M1838.9 2633.6h0M1848.9 2585.4h0M1850.5 2598.7h0M1862.2 2611.3h0M1837.2 2650.2h0M1875.5 2643.6h0M1888.8 2638.6h0M1900.4 2618.6h0M1899.7 2635.2h0M1936.3 2651.2h0M1977.6 2601.3h0M1990.2 2639.6h0M2008.5 2628.6h0M2029.5 2601.3h0M2041.8 2610.3h0M2043.5 2612.0h0M2057.4 2600.3h0M2056.1 2624.6h0M2075.1 2612.0h0M2072.7 2626.9h0M2074.1 2569.8h0M2076.1 2645.2h0M2090.0 2645.2h0M2092.7 2651.2h0M2106.7 2621.9h0M2111.7 2621.9h0M2128.3 2620.3h0M2126.6 2630.3h0M2139.9 2603.7h0M2139.9 2637.9h0M2148.3 2647.9h0M2158.2 2621.3h0M1789.0 2683.5h0M1799.9 2695.1h0M1820.6 2673.5h0M1822.2 2690.1h0M1828.9 2686.8h0M1777.3 2718.4h0M1780.7 2725.0h0M1774.0 2678.5h0M1838.9 2655.2h0M1861.2 2670.2h0M1873.8 2696.7h0M1875.5 2655.2h0M1887.1 2668.5h0M1897.1 2656.9h0M1892.1 2705.1h0M1898.8 2705.1h0M1892.1 2721.7h0M1913.7 2668.5h0M1912.1 2686.8h0M1913.7 2690.1h0M1922.0 2681.8h0M1932.0 2678.5h0M1927.0 2700.1h0M1935.3 2703.4h0M1940.3 2705.1h0M1953.6 2710.0h0M1953.6 2723.3h0M1950.3 2726.7h0M1907.1 2728.3h0M1913.7 2731.7h0M1953.6 2675.1h0M1965.3 2671.8h0M1975.3 2705.1h0M1990.2 2664.5h0M1998.6 2676.8h0M2006.9 2718.4h0M2018.5 2678.5h0M2023.5 2726.7h0M2030.2 2688.4h0M2033.5 2695.1h0M2045.1 2703.4h0M2045.1 2660.2h0M2046.8 2666.8h0M2050.1 2691.1h0M2058.4 2668.5h0M2063.4 2675.1h0M2068.4 2678.5h0M2036.8 2733.3h0M2076.7 2723.3h0M2083.4 2720.0h0M2095.0 2686.8h0M2093.4 2705.1h0M2106.7 2718.4h0M2113.3 2657.9h0M2120.0 2723.3h0M2123.3 2673.5h0M2125.0 2678.5h0M2130.0 2663.5h0M2136.6 2666.8h0M2143.3 2675.1h0M2149.9 2671.8h0M2141.6 2686.8h0M2130.0 2700.1h0M2141.6 2710.0h0M2141.6 2720.0h0M2088.4 2715.0h0M2158.2 2681.8h0M2159.9 2708.4h0M2164.9 2711.7h0M2166.5 2723.3h0M2161.6 2723.3h0M2153.2 2718.4h0M1780.0 2754.9h0M1782.3 2776.5h0M1775.7 2784.9h0M1817.2 2774.9h0M1787.3 2813.1h0M1792.3 2814.8h0M1802.3 2826.4h0M1831.2 2793.2h0M1820.6 2803.1h0M1823.9 2811.4h0M1833.9 2813.1h0M1840.5 2744.3h0M1850.5 2735.0h0M1857.2 2766.6h0M1872.1 2767.6h0M1877.1 2749.9h0M1845.5 2799.8h0M1892.1 2803.1h0M1905.4 2728.3h0M1910.4 2735.0h0M1917.0 2733.3h0M1922.0 2738.3h0M1907.1 2745.0h0M1915.4 2748.3h0M1903.7 2751.6h0M1925.4 2751.6h0M1940.3 2735.0h0M1943.7 2741.6h0M1950.3 2745.0h0M1940.3 2756.6h0M1952.0 2763.2h0M1963.6 2738.3h0M1903.7 2774.9h0M1907.1 2781.5h0M1915.4 2766.6h0M1933.7 2783.2h0M1918.7 2801.5h0M1943.7 2796.5h0M1945.3 2806.5h0M1958.6 2761.6h0M1966.9 2761.6h0M1975.3 2758.3h0M1986.9 2738.3h0M1985.2 2759.9h0M1993.6 2749.9h0M2003.5 2741.6h0M2010.2 2736.6h0M2012.9 2759.9h0M1971.9 2781.5h0M1970.3 2804.8h0M1968.6 2809.8h0M2016.8 2796.5h0M2020.2 2816.4h0M1976.9 2821.4h0M1985.2 2823.1h0M1991.9 2829.7h0M1998.6 2828.1h0M2025.2 2725.0h0M2033.5 2733.3h0M2040.1 2757.6h0M2065.1 2743.3h0M2035.1 2785.5h0M2070.1 2788.2h0M2070.1 2804.8h0M2078.4 2798.1h0M2086.7 2803.1h0M2085.0 2740.0h0M2100.0 2733.3h0M2101.7 2756.6h0M2101.7 2789.8h0M2113.3 2781.5h0M2120.0 2784.9h0M2120.0 2794.8h0M2108.3 2720.0h0M2159.9 2759.9h0M2153.2 2783.2h0M2151.6 2798.1h0M2161.6 2798.1h0M2143.3 2813.1h0M2153.2 2809.8h0M1777.3 2836.4h0M1815.6 2848.0h0M1810.6 2859.7h0M1805.6 2871.3h0M1813.9 2874.6h0M1792.3 2897.9h0M1802.3 2892.9h0M1813.9 2889.6h0M1823.9 2909.5h0M1802.3 2828.1h0M1852.2 2833.1h0M1863.8 2854.7h0M1845.5 2886.3h0M1858.8 2889.6h0M1880.5 2877.9h0M1882.1 2901.2h0M1895.4 2896.2h0M1868.8 2916.2h0M1884.8 2837.4h0M1920.4 2863.0h0M1935.3 2873.0h0M1947.0 2871.3h0M1947.0 2843.0h0M1933.0 2911.8h0M1960.3 2829.7h0M1960.3 2836.4h0M1981.9 2838.0h0M1981.9 2841.4h0M1966.9 2853.0h0M1957.0 2901.2h0M1962.0 2909.5h0M1995.2 2829.7h0M2011.9 2854.7h0M2021.8 2856.3h0M2025.2 2877.9h0M2003.5 2901.2h0M2020.2 2919.5h0M2023.5 2828.1h0M2051.8 2833.1h0M2053.4 2841.4h0M2061.8 2851.3h0M2068.4 2826.4h0M2026.8 2901.2h0M2040.1 2907.9h0M2086.0 2836.4h0M2096.0 2850.7h0M2103.3 2866.3h0M2118.3 2876.3h0M2131.6 2873.0h0M2103.3 2892.9h0M2133.3 2826.4h0M2164.9 2843.0h0" stroke="#0000ff"/>
</g>
<g font-family="Liberation Sans, Arial, Helvetica, sans-serif" font-size="63.5" fill="#000">
<text transform="translate(234.7 61.5) scale(1 1.03)" text-anchor="end">0.9</text>
<text transform="translate(234.7 221.2) scale(1 1.03)" text-anchor="end">0.8</text>
<text transform="translate(234.7 380.9) scale(1 1.03)" text-anchor="end">0.7</text>
<text transform="translate(234.7 540.6) scale(1 1.03)" text-anchor="end">0.6</text>
<text transform="translate(234.7 700.3) scale(1 1.03)" text-anchor="end">0.5</text>
<text transform="translate(234.7 860.0) scale(1 1.03)" text-anchor="end">0.4</text>
<text transform="translate(234.7 1019.7) scale(1 1.03)" text-anchor="end">0.3</text>
<text transform="translate(234.7 1179.4) scale(1 1.03)" text-anchor="end">0.2</text>
<text transform="translate(234.7 1339.1) scale(1 1.03)" text-anchor="end">0.1</text>
<text transform="translate(234.7 1498.8) scale(1 1.03)" text-anchor="end">0</text>
<text transform="translate(234.7 1658.5) scale(1 1.03)" text-anchor="end">-0.1</text>
<text transform="translate(252.0 1712.0) scale(1 1.03)" text-anchor="middle">0</text>
<text transform="translate(505.2 1712.0) scale(1 1.03)" text-anchor="middle">200</text>
<text transform="translate(758.5 1712.0) scale(1 1.03)" text-anchor="middle">400</text>
<text transform="translate(1011.8 1712.0) scale(1 1.03)" text-anchor="middle">600</text>
<text transform="translate(1265.0 1712.0) scale(1 1.03)" text-anchor="middle">800</text>
<text transform="translate(1518.2 1712.0) scale(1 1.03)" text-anchor="middle">1000</text>
<text transform="translate(1771.5 1712.0) scale(1 1.03)" text-anchor="middle">1200</text>
<text transform="translate(2024.8 1712.0) scale(1 1.03)" text-anchor="middle">1400</text>
<text transform="translate(2278.0 1712.0) scale(1 1.03)" text-anchor="middle">1600</text>
<text transform="translate(246.7 1969.5) scale(1 1.03)" text-anchor="end">0.8</text>
<text transform="translate(246.7 2145.9) scale(1 1.03)" text-anchor="end">0.7</text>
<text transform="translate(246.7 2322.4) scale(1 1.03)" text-anchor="end">0.6</text>
<text transform="translate(246.7 2498.8) scale(1 1.03)" text-anchor="end">0.5</text>
<text transform="translate(246.7 2675.3) scale(1 1.03)" text-anchor="end">0.4</text>
<text transform="translate(246.7 2851.7) scale(1 1.03)" text-anchor="end">0.3</text>
<text transform="translate(246.7 3028.2) scale(1 1.03)" text-anchor="end">0.2</text>
<text transform="translate(246.7 3204.6) scale(1 1.03)" text-anchor="end">0.1</text>
<text transform="translate(246.7 3381.1) scale(1 1.03)" text-anchor="end">0</text>
<text transform="translate(246.7 3557.5) scale(1 1.03)" text-anchor="end">-0.1</text>
<text transform="translate(264.0 3611.0) scale(1 1.03)" text-anchor="middle">0</text>
<text transform="translate(515.6 3611.0) scale(1 1.03)" text-anchor="middle">200</text>
<text transform="translate(767.2 3611.0) scale(1 1.03)" text-anchor="middle">400</text>
<text transform="translate(1018.9 3611.0) scale(1 1.03)" text-anchor="middle">600</text>
<text transform="translate(1270.5 3611.0) scale(1 1.03)" text-anchor="middle">800</text>
<text transform="translate(1522.1 3611.0) scale(1 1.03)" text-anchor="middle">1000</text>
<text transform="translate(1773.8 3611.0) scale(1 1.03)" text-anchor="middle">1200</text>
<text transform="translate(2025.4 3611.0) scale(1 1.03)" text-anchor="middle">1400</text>
<text transform="translate(2277.0 3611.0) scale(1 1.03)" text-anchor="middle">1600</text>
<text x="1263.5" y="1788.0" text-anchor="middle">sample points</text>
<text x="1269.0" y="3687.0" text-anchor="middle">sample points</text>
<text transform="translate(85.3 837.5) rotate(-90) scale(1 1.066)" text-anchor="middle" font-size="62.8">NDFSI or NDSI</text>
<text transform="translate(98.1 2740.4) rotate(-90) scale(1 1.066)" text-anchor="middle" font-size="62.8">NDFSI</text>
</g>
<rect x="244.5" y="1451.0" width="1103.3" height="185.5" fill="#fff" stroke="#1e1e1e" stroke-width="3"/>
<circle cx="376.7" cy="1502.2" r="6" fill="#ff0000"/>
<circle cx="376.7" cy="1585.2" r="6" fill="#00ff00"/>
<g font-family="Liberation Sans, Arial, Helvetica, sans-serif" font-size="62.5" fill="#000">
<text x="490.5" y="1525.0">NDFSI of snow-covered forest</text>
<text x="490.5" y="1607.5">NDSI of snow-covered forest</text>
</g>
<rect x="261.9" y="3349.3" width="1095.1" height="185.1" fill="#fff" stroke="#1e1e1e" stroke-width="3"/>
<circle cx="392.6" cy="3400.4" r="6" fill="#ff0000"/>
<circle cx="392.6" cy="3483.0" r="6" fill="#0000ff"/>
<g font-family="Liberation Sans, Arial, Helvetica, sans-serif" font-size="62.5" fill="#000">
<text x="504.3" y="3423.3">NDFSI of snow-covered forest</text>
<text x="504.3" y="3505.6">NDFSI of snow-free forest</text>
</g>
<g font-family="Liberation Serif, Times New Roman, serif" font-weight="bold" font-size="84.5" fill="#000" text-anchor="middle" letter-spacing="-2">
<text x="1193" y="1889.2"><tspan font-weight="normal">(</tspan>a<tspan font-weight="normal">)</tspan></text>
<text x="1193.6" y="3781" letter-spacing="0"><tspan font-weight="normal">(</tspan>b<tspan font-weight="normal">)</tspan></text>
</g>
</svg>
</body></html>
